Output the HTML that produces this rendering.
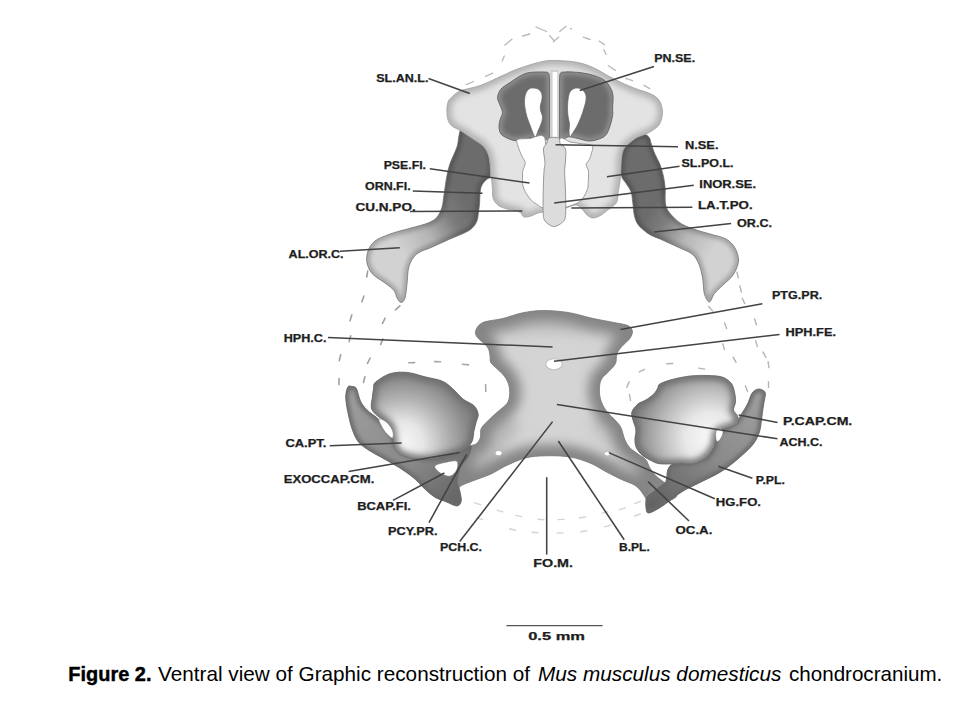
<!DOCTYPE html>
<html><head><meta charset="utf-8">
<style>
html,body{margin:0;padding:0;background:#fff;width:960px;height:702px;overflow:hidden}
svg{display:block}
.lb{font-family:"Liberation Sans",sans-serif;font-weight:bold;font-size:10.5px;fill:#1e1e1e;stroke:#1e1e1e;stroke-width:0.25}
.ld{stroke:#434343;stroke-width:1.55;fill:none}
.dash{stroke:#bcbcbc;stroke-width:1.3;fill:none;stroke-dasharray:4 9;stroke-linecap:round}
.cap{font-family:"Liberation Sans",sans-serif;font-size:21px;fill:#000}
</style></head><body>
<svg width="960" height="702" viewBox="0 0 960 702">
<defs>
<linearGradient id="gWingL" x1="468" y1="205" x2="400" y2="250" gradientUnits="userSpaceOnUse">
<stop offset="0" stop-color="#6c6c6c"/><stop offset="0.25" stop-color="#7a7a7a"/><stop offset="0.6" stop-color="#b4b4b4"/><stop offset="1" stop-color="#d2d2d2"/>
</linearGradient>
<linearGradient id="gWingR" x1="650" y1="212" x2="712" y2="252" gradientUnits="userSpaceOnUse">
<stop offset="0" stop-color="#6c6c6c"/><stop offset="0.25" stop-color="#7e7e7e"/><stop offset="0.6" stop-color="#b6b6b6"/><stop offset="1" stop-color="#d2d2d2"/>
</linearGradient>
<radialGradient id="gCap" cx="556" cy="140" r="110" gradientUnits="userSpaceOnUse">
<stop offset="0" stop-color="#e6e6e6"/><stop offset="0.8" stop-color="#dadada"/><stop offset="1" stop-color="#c8c8c8"/>
</radialGradient>
<radialGradient id="gPlate" cx="552" cy="400" r="110" gradientUnits="userSpaceOnUse">
<stop offset="0" stop-color="#d2d2d2"/><stop offset="0.6" stop-color="#bababa"/><stop offset="1" stop-color="#8e8e8e"/>
</radialGradient>
<radialGradient id="gOticL" cx="405" cy="442" r="78" fx="400" fy="444" gradientUnits="userSpaceOnUse">
<stop offset="0" stop-color="#f8f8f8"/><stop offset="0.28" stop-color="#e6e6e6"/><stop offset="0.58" stop-color="#b0b0b0"/><stop offset="0.82" stop-color="#8a8a8a"/><stop offset="1" stop-color="#747474"/>
</radialGradient>
<radialGradient id="gOticR" cx="706" cy="436" r="84" fx="712" fy="438" gradientUnits="userSpaceOnUse">
<stop offset="0" stop-color="#fafafa"/><stop offset="0.3" stop-color="#e8e8e8"/><stop offset="0.58" stop-color="#b8b8b8"/><stop offset="0.82" stop-color="#8a8a8a"/><stop offset="1" stop-color="#707070"/>
</radialGradient>
<linearGradient id="gBandL" x1="350" y1="390" x2="458" y2="505" gradientUnits="userSpaceOnUse">
<stop offset="0" stop-color="#9e9e9e"/><stop offset="0.6" stop-color="#8a8a8a"/><stop offset="1" stop-color="#626262"/>
</linearGradient>
<linearGradient id="gBandR" x1="762" y1="392" x2="650" y2="508" gradientUnits="userSpaceOnUse">
<stop offset="0" stop-color="#a0a0a0"/><stop offset="0.5" stop-color="#8a8a8a"/><stop offset="1" stop-color="#606060"/>
</linearGradient>
<filter id="soft" filterUnits="userSpaceOnUse" x="0" y="0" width="960" height="702"><feGaussianBlur stdDeviation="0.45"/></filter>
<filter id="b1" filterUnits="userSpaceOnUse" x="0" y="0" width="960" height="702"><feGaussianBlur stdDeviation="1"/></filter>
<filter id="b1_5" filterUnits="userSpaceOnUse" x="0" y="0" width="960" height="702"><feGaussianBlur stdDeviation="1.5"/></filter>
<filter id="b2" filterUnits="userSpaceOnUse" x="0" y="0" width="960" height="702"><feGaussianBlur stdDeviation="2"/></filter>
<filter id="b3" filterUnits="userSpaceOnUse" x="0" y="0" width="960" height="702"><feGaussianBlur stdDeviation="3"/></filter>
<filter id="b4" filterUnits="userSpaceOnUse" x="0" y="0" width="960" height="702"><feGaussianBlur stdDeviation="4"/></filter>
<filter id="b5" filterUnits="userSpaceOnUse" x="0" y="0" width="960" height="702"><feGaussianBlur stdDeviation="5"/></filter>
<filter id="b6" filterUnits="userSpaceOnUse" x="0" y="0" width="960" height="702"><feGaussianBlur stdDeviation="6"/></filter>
<clipPath id="c1"><path d="M465.0,128.0 C462.7,127.5 462.0,127.8 461.0,129.0 C460.0,130.2 459.6,132.6 459.0,135.4 C458.4,138.2 458.2,142.5 457.4,145.6 C456.6,148.7 455.3,151.1 454.0,154.2 C452.7,157.3 450.8,161.0 449.7,164.4 C448.6,167.8 447.8,171.3 447.1,174.7 C446.4,178.1 446.0,181.3 445.4,185.0 C444.8,188.7 444.3,193.3 443.7,197.0 C443.1,200.7 443.1,203.8 442.0,207.2 C440.9,210.6 439.1,214.8 436.8,217.4 C434.5,220.0 432.3,221.2 428.0,223.0 C423.7,224.8 417.3,226.2 411.0,228.0 C404.7,229.8 396.0,231.8 390.0,234.0 C384.0,236.2 378.7,238.2 375.0,241.0 C371.3,243.8 369.3,247.3 368.0,251.0 C366.7,254.7 366.2,259.2 367.0,263.0 C367.8,266.8 369.5,270.7 372.5,274.0 C375.5,277.3 381.4,280.2 385.0,283.0 C388.6,285.8 392.0,288.0 394.0,290.5 C396.0,293.0 395.8,296.0 397.0,298.0 C398.2,300.0 399.7,302.5 401.0,302.5 C402.3,302.5 404.0,301.1 405.0,298.0 C406.0,294.9 406.4,288.9 407.0,284.0 C407.6,279.1 407.5,272.8 408.5,268.5 C409.5,264.2 411.1,260.8 413.0,258.0 C414.9,255.2 417.0,253.8 420.0,252.0 C423.0,250.2 426.0,249.7 431.0,247.5 C436.0,245.3 443.7,241.8 450.0,239.0 C456.3,236.2 464.6,233.3 469.0,230.5 C473.4,227.7 474.9,225.1 476.5,222.0 C478.1,218.9 478.0,215.2 478.5,212.0 C479.0,208.8 479.4,206.0 479.6,203.0 C479.9,200.0 479.7,196.8 480.0,194.0 C480.3,191.2 480.5,188.3 481.5,186.0 C482.5,183.7 484.4,181.7 486.0,180.0 C487.6,178.3 490.0,178.5 491.0,176.0 C492.0,173.5 492.2,169.3 492.0,165.0 C491.8,160.7 491.2,154.2 490.0,150.0 C488.8,145.8 487.5,143.0 485.0,140.0 C482.5,137.0 478.3,134.0 475.0,132.0 C471.7,130.0 467.3,128.5 465.0,128.0 Z"/></clipPath>
<clipPath id="c2"><path d="M636.0,136.5 C638.9,134.9 642.8,134.2 645.0,134.5 C647.2,134.8 648.5,136.6 649.5,138.0 C650.5,139.4 650.1,140.3 651.0,143.0 C651.9,145.7 653.5,150.6 655.0,154.2 C656.5,157.8 658.6,160.7 660.0,164.4 C661.4,168.1 662.6,172.4 663.5,176.4 C664.4,180.4 664.9,184.4 665.2,188.4 C665.5,192.4 664.9,196.9 665.2,200.3 C665.5,203.7 665.6,206.1 667.0,208.9 C668.4,211.8 671.2,214.8 673.8,217.4 C676.3,220.0 678.8,222.3 682.3,224.3 C685.8,226.3 690.4,227.9 695.0,229.5 C699.6,231.1 704.8,232.4 710.0,234.0 C715.2,235.6 721.8,236.7 726.0,239.0 C730.2,241.3 732.9,244.3 735.0,248.0 C737.1,251.7 738.8,256.6 738.5,261.0 C738.2,265.4 735.9,270.7 733.3,274.7 C730.7,278.7 726.1,281.9 723.0,285.0 C719.9,288.1 716.8,290.7 714.5,293.5 C712.2,296.3 711.1,302.0 709.4,302.0 C707.7,302.0 705.4,297.5 704.3,293.5 C703.2,289.5 703.5,282.9 702.6,278.0 C701.7,273.1 700.7,268.4 699.0,264.4 C697.3,260.4 695.7,257.0 692.3,254.2 C688.9,251.4 684.0,249.9 678.6,247.4 C673.2,244.9 664.5,241.0 660.0,239.0 C655.5,237.0 653.8,236.7 651.3,235.4 C648.8,234.1 646.9,232.8 644.7,231.0 C642.5,229.2 639.6,226.9 637.9,224.3 C636.2,221.8 635.3,219.4 634.4,215.7 C633.5,212.0 633.3,206.0 632.7,202.0 C632.1,198.0 632.1,194.9 631.0,191.8 C629.9,188.7 627.6,185.8 626.0,183.2 C624.4,180.6 622.5,179.5 621.6,176.4 C620.7,173.3 620.6,168.4 620.8,164.4 C620.9,160.4 621.4,155.9 622.5,152.5 C623.6,149.1 625.4,146.7 627.6,144.0 C629.9,141.3 633.1,138.1 636.0,136.5 Z"/></clipPath>
<clipPath id="c3"><path d="M556.0,60.5 C561.0,60.7 569.0,60.9 575.0,62.0 C581.0,63.1 585.5,64.2 592.0,67.0 C598.5,69.8 607.0,75.5 614.0,79.0 C621.0,82.5 627.8,85.5 634.0,88.0 C640.2,90.5 646.7,91.8 651.0,94.0 C655.3,96.2 657.7,97.9 659.6,101.0 C661.5,104.1 662.5,108.8 662.5,112.6 C662.5,116.4 661.2,121.1 659.6,124.0 C658.0,126.9 655.3,128.3 653.0,130.0 C650.7,131.7 648.5,132.8 646.0,134.0 C643.5,135.2 640.2,135.9 638.0,137.0 C635.8,138.1 635.0,138.6 632.7,140.5 C630.4,142.4 626.1,145.3 624.2,148.2 C622.4,151.0 622.2,153.8 621.6,157.6 C621.0,161.4 621.1,167.3 620.8,171.3 C620.5,175.3 620.4,178.1 620.0,181.5 C619.6,184.9 618.6,188.7 618.2,191.8 C617.8,194.9 618.1,198.0 617.4,200.3 C616.7,202.6 615.7,203.8 614.0,205.5 C612.3,207.2 609.3,208.9 607.0,210.6 C604.7,212.3 602.6,214.5 600.3,215.7 C598.0,216.9 595.2,218.1 593.0,218.0 C590.8,217.9 588.8,216.5 587.0,215.0 C585.2,213.5 583.8,210.7 582.0,209.0 C580.2,207.3 578.7,205.2 576.0,205.0 C573.3,204.8 569.3,207.0 566.0,208.0 C562.7,209.0 559.5,210.3 556.0,211.0 C552.5,211.7 548.0,211.7 545.0,212.0 C542.0,212.3 540.3,212.3 538.0,213.0 C535.7,213.7 533.3,215.3 531.0,216.0 C528.7,216.7 525.7,217.5 524.0,217.0 C522.3,216.5 522.4,214.1 521.0,213.0 C519.6,211.9 517.8,211.3 515.5,210.6 C513.2,209.9 509.9,209.8 507.0,209.0 C504.1,208.2 500.7,207.2 498.4,205.5 C496.1,203.8 494.2,201.4 493.2,198.6 C492.2,195.8 492.7,191.8 492.4,188.4 C492.1,185.0 491.8,180.1 491.5,178.0 C491.2,175.9 490.9,178.3 490.7,176.0 C490.4,173.7 490.4,167.7 490.0,164.0 C489.6,160.3 489.2,157.0 488.0,154.0 C486.8,151.0 485.5,148.5 483.0,146.0 C480.5,143.5 476.7,141.5 473.0,139.0 C469.3,136.5 464.5,133.2 461.0,131.0 C457.5,128.8 454.2,127.8 452.0,126.0 C449.8,124.2 448.9,122.7 448.0,120.0 C447.1,117.3 446.9,113.0 446.9,110.0 C446.9,107.0 447.3,104.0 448.0,102.0 C448.7,100.0 449.0,99.8 451.0,98.0 C453.0,96.2 455.2,93.1 460.0,91.0 C464.8,88.9 472.9,88.2 480.0,85.6 C487.1,83.0 496.7,78.2 502.5,75.6 C508.3,73.0 510.2,71.8 515.0,70.0 C519.8,68.2 526.0,66.0 531.0,64.5 C536.0,63.0 540.8,61.7 545.0,61.0 C549.2,60.3 551.0,60.3 556.0,60.5 Z"/></clipPath>
<clipPath id="c4"><path d="M549.5,80.0 C549.3,75.5 549.4,74.3 548.5,73.0 C547.6,71.7 546.1,72.2 544.0,72.0 C541.9,71.8 538.7,71.9 536.0,72.0 C533.3,72.1 530.7,72.1 528.0,72.8 C525.3,73.5 523.0,74.4 520.0,76.0 C517.0,77.6 513.2,80.3 510.0,82.5 C506.8,84.7 503.1,86.5 501.0,89.0 C498.9,91.5 497.7,94.8 497.5,97.5 C497.3,100.2 499.2,102.5 500.0,105.0 C500.8,107.5 502.5,110.0 502.5,112.5 C502.5,115.0 500.6,117.5 500.0,120.0 C499.4,122.5 498.8,125.2 499.0,127.5 C499.2,129.8 499.8,132.3 501.0,134.0 C502.2,135.7 503.8,136.4 506.0,137.5 C508.2,138.6 511.5,140.1 514.0,140.5 C516.5,140.9 518.3,140.4 521.0,140.0 C523.7,139.6 527.3,138.5 530.0,138.0 C532.7,137.5 534.8,137.0 537.0,137.0 C539.2,137.0 541.0,137.7 543.0,138.0 C545.0,138.3 547.9,142.0 549.0,139.0 C550.1,136.0 549.5,126.5 549.6,120.0 C549.7,113.5 549.6,106.7 549.6,100.0 C549.6,93.3 549.7,84.5 549.5,80.0 Z"/></clipPath>
<clipPath id="c5"><path d="M559.5,80.0 C559.7,75.5 559.6,74.3 560.5,73.0 C561.4,71.7 562.9,72.2 565.0,72.0 C567.1,71.8 570.0,71.8 573.0,72.0 C576.0,72.2 579.5,72.4 583.0,73.0 C586.5,73.6 590.5,74.3 594.0,75.5 C597.5,76.7 601.3,78.1 604.0,80.0 C606.7,81.9 608.5,84.4 610.0,87.0 C611.5,89.6 612.6,92.0 613.0,95.5 C613.4,99.0 612.7,104.7 612.6,108.0 C612.5,111.3 613.1,112.3 612.6,115.5 C612.1,118.7 610.9,123.6 609.7,126.9 C608.5,130.2 607.6,133.3 605.5,135.4 C603.4,137.5 599.9,138.8 597.0,139.7 C594.1,140.6 591.7,141.2 588.4,141.0 C585.1,140.8 580.3,139.0 577.0,138.3 C573.7,137.6 570.8,136.6 568.4,136.8 C566.0,137.0 564.2,139.3 562.7,139.7 C561.2,140.1 560.0,142.3 559.5,139.0 C559.0,135.7 559.4,126.5 559.4,120.0 C559.4,113.5 559.4,106.7 559.4,100.0 C559.4,93.3 559.3,84.5 559.5,80.0 Z"/></clipPath>
<clipPath id="c6"><path d="M476.0,330.0 C477.0,327.6 478.6,324.4 483.0,322.5 C487.4,320.6 496.1,320.1 502.7,318.5 C509.3,316.9 516.1,314.1 522.7,312.8 C529.4,311.5 535.0,310.6 542.6,310.5 C550.2,310.4 560.2,311.2 568.3,312.5 C576.4,313.8 583.4,316.3 591.0,318.0 C598.6,319.7 607.6,321.2 613.8,322.5 C620.0,323.8 624.9,324.1 628.0,325.6 C631.1,327.1 632.1,329.1 632.4,331.3 C632.7,333.5 631.5,336.1 629.6,338.8 C627.7,341.5 623.1,344.8 621.0,347.4 C618.9,350.0 617.7,351.5 616.8,354.2 C615.9,356.9 616.8,360.6 615.5,363.5 C614.2,366.4 611.2,368.9 609.0,371.3 C606.8,373.7 603.8,375.8 602.2,378.1 C600.7,380.4 600.1,382.1 599.7,385.0 C599.3,387.9 599.3,392.1 599.7,395.2 C600.1,398.3 600.9,400.9 602.2,403.8 C603.5,406.7 605.1,409.5 607.4,412.3 C609.7,415.1 613.6,418.3 615.9,420.9 C618.2,423.5 619.5,424.5 621.0,427.7 C622.5,430.9 623.4,436.4 624.9,439.8 C626.4,443.2 627.8,445.5 629.9,447.8 C632.0,450.1 635.1,451.8 637.8,453.8 C640.4,455.8 643.8,457.4 645.8,459.7 C647.8,462.0 648.1,465.0 649.8,467.7 C651.5,470.4 653.1,473.0 655.8,475.7 C658.5,478.4 662.8,481.0 665.8,483.7 C668.8,486.4 672.0,489.4 673.7,491.6 C675.4,493.8 678.0,494.9 676.0,497.0 C674.0,499.1 666.3,502.2 662.0,504.0 C657.7,505.8 652.8,509.2 650.0,508.0 C647.2,506.8 647.3,500.7 645.0,497.0 C642.7,493.3 639.9,488.9 636.0,486.0 C632.1,483.1 626.9,482.1 621.9,479.7 C616.9,477.3 611.3,474.5 606.0,471.7 C600.7,468.9 596.0,465.4 590.0,463.0 C584.0,460.6 577.4,458.2 570.0,457.0 C562.6,455.8 552.9,455.6 545.5,455.8 C538.1,456.0 532.1,456.3 525.5,458.0 C518.9,459.7 511.4,463.3 505.6,466.0 C499.9,468.7 496.3,471.6 491.0,474.0 C485.7,476.4 478.7,478.6 474.0,480.4 C469.3,482.2 466.2,483.3 463.0,484.7 C459.8,486.1 457.5,489.8 455.0,489.0 C452.5,488.2 447.5,483.2 448.0,480.0 C448.5,476.8 454.8,475.3 458.0,470.0 C461.2,464.7 464.5,452.7 467.5,448.4 C470.5,444.1 473.9,445.8 476.0,444.0 C478.1,442.2 479.5,440.2 480.3,437.7 C481.1,435.2 480.1,431.6 481.0,429.1 C481.9,426.6 483.3,425.6 486.0,422.7 C488.7,419.8 493.9,415.2 497.4,412.0 C500.9,408.8 505.0,406.3 507.0,403.5 C509.0,400.7 509.3,398.1 509.6,395.0 C509.9,391.9 509.6,387.8 508.7,384.7 C507.8,381.6 506.2,378.8 504.4,376.2 C502.5,373.6 499.9,371.6 497.6,369.3 C495.3,367.0 492.1,364.8 490.8,362.5 C489.5,360.2 490.6,358.2 490.0,355.6 C489.4,353.0 489.6,350.1 487.4,347.0 C485.2,343.9 478.9,339.6 477.0,336.8 C475.1,334.0 475.0,332.4 476.0,330.0 Z"/></clipPath>
<clipPath id="c7"><path d="M347.8,387.0 C348.9,385.2 350.6,386.2 352.0,386.5 C353.4,386.8 355.0,386.0 356.4,388.5 C357.8,391.0 358.8,397.7 360.6,401.3 C362.4,404.9 364.1,407.0 367.0,409.9 C369.9,412.8 374.5,415.5 377.7,418.4 C380.9,421.2 383.8,424.1 386.3,427.0 C388.8,429.9 390.8,432.2 392.7,435.5 C394.6,438.8 395.1,443.8 398.0,447.0 C400.9,450.2 404.7,453.2 410.0,455.0 C415.3,456.8 423.7,458.0 430.0,458.0 C436.3,458.0 442.7,456.3 448.0,455.0 C453.3,453.7 458.2,451.5 462.0,450.0 C465.8,448.5 470.0,444.8 471.0,446.0 C472.0,447.2 469.7,453.7 468.0,457.0 C466.3,460.3 462.5,463.5 461.0,466.0 C459.5,468.5 459.7,469.3 459.0,472.0 C458.3,474.7 457.0,479.3 457.0,482.0 C457.0,484.7 458.4,486.0 459.0,488.0 C459.6,490.0 460.1,491.7 460.5,494.0 C460.9,496.3 461.7,499.8 461.1,501.8 C460.5,503.8 459.3,506.0 456.8,506.0 C454.3,506.0 449.7,503.2 446.1,501.8 C442.5,500.4 438.9,499.6 435.4,497.5 C431.8,495.4 428.4,492.2 424.8,489.0 C421.2,485.8 418.4,481.9 414.1,478.3 C409.8,474.7 404.1,470.8 399.1,467.6 C394.1,464.4 389.2,461.9 384.2,459.0 C379.2,456.1 373.5,453.3 369.2,450.5 C364.9,447.7 361.4,445.6 358.5,442.0 C355.6,438.4 353.9,434.0 352.1,429.0 C350.3,424.0 348.9,417.3 347.8,412.0 C346.7,406.7 345.7,401.2 345.7,397.0 C345.7,392.8 346.8,388.8 347.8,387.0 Z"/></clipPath>
<clipPath id="c8"><path d="M755.5,390.0 C756.8,389.2 758.1,388.8 759.5,389.0 C760.9,389.2 763.0,390.2 764.0,391.0 C765.0,391.8 765.3,392.5 765.4,394.0 C765.5,395.5 764.8,398.0 764.5,400.0 C764.2,402.0 763.9,402.7 763.4,406.0 C762.9,409.3 762.1,415.7 761.5,420.0 C760.9,424.3 760.8,427.8 759.5,431.8 C758.2,435.8 756.5,439.8 753.5,443.8 C750.5,447.8 745.5,452.2 741.5,455.8 C737.5,459.4 733.6,462.7 729.6,465.7 C725.6,468.7 722.3,471.0 717.6,473.7 C712.9,476.4 706.9,479.0 701.6,481.7 C696.3,484.4 690.4,487.0 685.7,489.6 C681.1,492.2 677.3,495.0 673.7,497.6 C670.1,500.2 667.1,502.9 664.0,505.0 C660.9,507.1 657.7,509.2 655.0,510.5 C652.3,511.8 649.5,513.4 648.0,513.0 C646.5,512.6 646.3,510.2 646.0,508.0 C645.7,505.8 645.7,502.0 646.0,500.0 C646.3,498.0 647.0,497.2 648.0,496.0 C649.0,494.8 650.3,494.3 652.0,493.0 C653.7,491.7 655.7,489.9 658.0,488.0 C660.3,486.1 664.2,484.8 665.8,481.7 C667.4,478.6 666.5,472.7 667.8,469.7 C669.1,466.7 670.0,465.0 673.7,463.7 C677.4,462.4 684.7,463.0 690.0,462.0 C695.3,461.0 701.7,460.2 705.6,457.8 C709.5,455.4 711.9,451.1 713.6,447.8 C715.3,444.5 714.9,440.5 715.6,437.8 C716.3,435.1 715.3,433.8 717.6,431.8 C719.9,429.8 726.3,427.8 729.6,425.8 C732.9,423.8 735.5,422.0 737.5,420.0 C739.5,418.0 739.8,416.7 741.5,414.0 C743.2,411.3 745.8,407.3 747.5,404.0 C749.2,400.7 750.2,396.3 751.5,394.0 C752.8,391.7 754.2,390.8 755.5,390.0 Z"/></clipPath>
<clipPath id="c9"><path d="M375.6,382.1 C378.5,379.6 385.2,375.1 390.6,373.5 C396.0,371.9 402.0,371.9 407.7,372.5 C413.4,373.1 419.1,375.4 424.8,376.8 C430.5,378.2 437.3,379.1 441.9,381.0 C446.5,382.9 448.9,385.5 452.5,388.5 C456.1,391.5 459.6,396.3 463.2,399.2 C466.8,402.1 471.4,403.1 473.9,405.6 C476.4,408.1 477.8,411.4 478.2,414.2 C478.6,417.0 476.7,419.8 476.0,422.7 C475.3,425.6 474.6,428.1 473.9,431.3 C473.2,434.5 473.6,438.8 471.8,442.0 C470.0,445.2 466.8,448.4 463.2,450.5 C459.6,452.6 455.4,453.4 450.4,454.8 C445.4,456.2 439.0,458.3 433.3,459.0 C427.6,459.7 421.5,459.7 416.2,459.0 C410.9,458.3 404.9,456.6 401.3,454.8 C397.7,453.0 396.2,451.2 394.8,448.4 C393.4,445.5 393.4,441.3 392.7,437.7 C392.0,434.1 392.0,429.9 390.6,427.0 C389.2,424.1 386.7,422.7 384.2,420.6 C381.7,418.5 377.8,416.4 375.6,414.2 C373.5,412.0 371.8,410.6 371.3,407.7 C370.8,404.8 372.0,400.2 372.4,397.0 C372.8,393.8 373.0,391.0 373.5,388.5 C374.0,386.0 372.8,384.6 375.6,382.1 Z"/></clipPath>
<clipPath id="c10"><path d="M659.8,384.0 C662.2,382.6 667.0,380.8 672.0,379.5 C677.0,378.2 684.0,376.7 690.0,376.0 C696.0,375.3 702.7,375.3 708.0,375.5 C713.3,375.7 718.2,375.8 722.0,377.0 C725.8,378.2 728.9,380.5 731.0,383.0 C733.1,385.5 733.8,388.8 734.5,392.0 C735.2,395.2 735.7,399.0 735.5,402.0 C735.3,405.0 733.2,407.7 733.5,410.0 C733.8,412.3 736.8,413.7 737.5,416.0 C738.2,418.3 739.1,422.0 737.5,424.0 C735.9,426.0 730.9,426.5 727.6,427.8 C724.3,429.1 719.6,429.8 717.6,431.8 C715.6,433.8 716.3,437.1 715.6,439.8 C714.9,442.5 715.3,444.8 713.6,447.8 C711.9,450.8 708.9,455.2 705.6,457.8 C702.3,460.4 697.8,462.8 693.7,463.7 C689.6,464.6 685.0,463.4 681.0,463.5 C677.0,463.6 673.8,464.0 670.0,464.0 C666.2,464.0 661.3,464.2 658.0,463.5 C654.7,462.8 652.7,461.4 650.0,460.0 C647.3,458.6 644.2,457.0 642.0,455.0 C639.8,453.0 637.7,450.5 636.5,448.0 C635.3,445.5 635.0,442.8 634.9,439.8 C634.8,436.8 636.2,433.1 635.9,429.8 C635.6,426.5 633.6,422.9 632.9,419.9 C632.2,416.9 631.1,414.5 631.9,411.9 C632.7,409.2 635.5,406.0 637.8,404.0 C640.1,402.0 643.1,401.7 645.8,400.0 C648.5,398.3 651.8,396.0 653.8,394.0 C655.8,392.0 656.8,389.7 657.8,388.0 C658.8,386.3 657.4,385.4 659.8,384.0 Z"/></clipPath>
</defs>
<g id="shapes" filter="url(#soft)">
<path d="M466.3,84.6 L473.5,81.5 M485.5,76.3 L492.8,73.1 M502.2,61 L504.3,56 M504.8,45 L512,39.3 M522.5,36 L529.8,34 M536,27 L546.5,31.5 M549.6,35.6 L553.5,40 M553.4,41.8 L558.6,37.2 M559.7,31.5 L566,26.3 M570.5,28.5 L571.5,28.8 M583.2,37.2 L590,39.5 M599.3,41.2 L604.4,44.6 M603.8,49.8 L606,54.4 M608.4,65.8 L615.3,70.4 M625.6,78.4 L632.5,80.7 M644,85.3 L649.7,88.7" stroke="#bababa" stroke-width="1.35" fill="none" stroke-linecap="round"/>
<path d="M367.7,271.0 L366.7,277.0 M363.9,296.1 L361.9,301.7 M351.8,314.9 L350.0,320.7 M350.7,335.8 L349.1,341.6 M340.7,354.8 L339.3,360.6 M339.1,378.6 L338.9,384.6" stroke="#a0a0a0" stroke-width="1.6" fill="none" stroke-linecap="round"/>
<path d="M399.9,305.8 L395.5,309.8 M385.1,318.1 L382.5,323.5 M382.9,338.9 L380.7,344.5 M370.1,358.0 L367.5,363.4 M364.9,376.7 L363.5,382.5" stroke="#a0a0a0" stroke-width="1.6" fill="none" stroke-linecap="round"/>
<path d="M408.7,362.8 L414.7,362.6 M434.6,361.6 L440.6,361.8 M462.5,364.3 L468.5,364.9" stroke="#a8a8a8" stroke-width="1.6" fill="none" stroke-linecap="round"/>
<path d="M485.6,384.5 L485.8,391.5" stroke="#a8a8a8" stroke-width="1.6" fill="none" stroke-linecap="round"/>
<path d="M737.0,272.1 L738.2,277.9 M739.9,286.0 L741.3,291.8 M742.3,298.2 L744.7,303.6 M754.6,318.9 L756.4,324.7 M755.7,340.8 L757.3,346.6 M763.0,352.1 L766.0,357.3 M768.1,361.6 L768.9,367.6 M768.5,381.6 L768.5,387.6" stroke="#b4b4b4" stroke-width="1.4" fill="none" stroke-linecap="round"/>
<path d="M708.7,306.5 L712.7,311.1 M724.6,323.0 L726.6,328.6 M722.8,343.8 L724.4,349.6 M733.2,357.1 L736.0,362.3 M745.4,385.8 L747.6,391.4" stroke="#b4b4b4" stroke-width="1.4" fill="none" stroke-linecap="round"/>
<path d="M630.5,400.5 L629.5,394.5 M626.8,387.3 L629.2,381.9 M639.2,371.9 L644.6,369.3 M666.8,363.7 L672.8,363.5 M698.7,368.1 L704.7,369.1" stroke="#b4b4b4" stroke-width="1.4" fill="none" stroke-linecap="round"/>
<path d="M474.6,502.8 L480.4,504.7 M497.1,510.1 L502.9,511.9 M515.8,515.4 L521.7,516.6 M538.0,519.3 L544.0,519.7 M558.0,519.6 L564.0,519.4 M579.5,518.0 L585.5,517.0 M602.1,513.1 L607.9,511.9 M619.6,509.6 L625.4,507.9 M634.7,503.7 L640.3,501.3" stroke="#d4d4d4" stroke-width="1.4" fill="none" stroke-linecap="round"/>
<path d="M477.2,517.8 L482.8,519.7 M509.6,528.8 L515.4,530.2 M532.0,532.3 L538.0,532.7 M557.0,533.1 L563.0,532.9 M580.8,531.7 L586.7,530.8 M604.6,526.9 L610.4,525.1 M634.7,516.0 L640.3,514.0" stroke="#d4d4d4" stroke-width="1.4" fill="none" stroke-linecap="round"/>
<path d="M465.0,128.0 C462.7,127.5 462.0,127.8 461.0,129.0 C460.0,130.2 459.6,132.6 459.0,135.4 C458.4,138.2 458.2,142.5 457.4,145.6 C456.6,148.7 455.3,151.1 454.0,154.2 C452.7,157.3 450.8,161.0 449.7,164.4 C448.6,167.8 447.8,171.3 447.1,174.7 C446.4,178.1 446.0,181.3 445.4,185.0 C444.8,188.7 444.3,193.3 443.7,197.0 C443.1,200.7 443.1,203.8 442.0,207.2 C440.9,210.6 439.1,214.8 436.8,217.4 C434.5,220.0 432.3,221.2 428.0,223.0 C423.7,224.8 417.3,226.2 411.0,228.0 C404.7,229.8 396.0,231.8 390.0,234.0 C384.0,236.2 378.7,238.2 375.0,241.0 C371.3,243.8 369.3,247.3 368.0,251.0 C366.7,254.7 366.2,259.2 367.0,263.0 C367.8,266.8 369.5,270.7 372.5,274.0 C375.5,277.3 381.4,280.2 385.0,283.0 C388.6,285.8 392.0,288.0 394.0,290.5 C396.0,293.0 395.8,296.0 397.0,298.0 C398.2,300.0 399.7,302.5 401.0,302.5 C402.3,302.5 404.0,301.1 405.0,298.0 C406.0,294.9 406.4,288.9 407.0,284.0 C407.6,279.1 407.5,272.8 408.5,268.5 C409.5,264.2 411.1,260.8 413.0,258.0 C414.9,255.2 417.0,253.8 420.0,252.0 C423.0,250.2 426.0,249.7 431.0,247.5 C436.0,245.3 443.7,241.8 450.0,239.0 C456.3,236.2 464.6,233.3 469.0,230.5 C473.4,227.7 474.9,225.1 476.5,222.0 C478.1,218.9 478.0,215.2 478.5,212.0 C479.0,208.8 479.4,206.0 479.6,203.0 C479.9,200.0 479.7,196.8 480.0,194.0 C480.3,191.2 480.5,188.3 481.5,186.0 C482.5,183.7 484.4,181.7 486.0,180.0 C487.6,178.3 490.0,178.5 491.0,176.0 C492.0,173.5 492.2,169.3 492.0,165.0 C491.8,160.7 491.2,154.2 490.0,150.0 C488.8,145.8 487.5,143.0 485.0,140.0 C482.5,137.0 478.3,134.0 475.0,132.0 C471.7,130.0 467.3,128.5 465.0,128.0 Z" fill="url(#gWingL)"/>
<path d="M465.0,128.0 C462.7,127.5 462.0,127.8 461.0,129.0 C460.0,130.2 459.6,132.6 459.0,135.4 C458.4,138.2 458.2,142.5 457.4,145.6 C456.6,148.7 455.3,151.1 454.0,154.2 C452.7,157.3 450.8,161.0 449.7,164.4 C448.6,167.8 447.8,171.3 447.1,174.7 C446.4,178.1 446.0,181.3 445.4,185.0 C444.8,188.7 444.3,193.3 443.7,197.0 C443.1,200.7 443.1,203.8 442.0,207.2 C440.9,210.6 439.1,214.8 436.8,217.4 C434.5,220.0 432.3,221.2 428.0,223.0 C423.7,224.8 417.3,226.2 411.0,228.0 C404.7,229.8 396.0,231.8 390.0,234.0 C384.0,236.2 378.7,238.2 375.0,241.0 C371.3,243.8 369.3,247.3 368.0,251.0 C366.7,254.7 366.2,259.2 367.0,263.0 C367.8,266.8 369.5,270.7 372.5,274.0 C375.5,277.3 381.4,280.2 385.0,283.0 C388.6,285.8 392.0,288.0 394.0,290.5 C396.0,293.0 395.8,296.0 397.0,298.0 C398.2,300.0 399.7,302.5 401.0,302.5 C402.3,302.5 404.0,301.1 405.0,298.0 C406.0,294.9 406.4,288.9 407.0,284.0 C407.6,279.1 407.5,272.8 408.5,268.5 C409.5,264.2 411.1,260.8 413.0,258.0 C414.9,255.2 417.0,253.8 420.0,252.0 C423.0,250.2 426.0,249.7 431.0,247.5 C436.0,245.3 443.7,241.8 450.0,239.0 C456.3,236.2 464.6,233.3 469.0,230.5 C473.4,227.7 474.9,225.1 476.5,222.0 C478.1,218.9 478.0,215.2 478.5,212.0 C479.0,208.8 479.4,206.0 479.6,203.0 C479.9,200.0 479.7,196.8 480.0,194.0 C480.3,191.2 480.5,188.3 481.5,186.0 C482.5,183.7 484.4,181.7 486.0,180.0 C487.6,178.3 490.0,178.5 491.0,176.0 C492.0,173.5 492.2,169.3 492.0,165.0 C491.8,160.7 491.2,154.2 490.0,150.0 C488.8,145.8 487.5,143.0 485.0,140.0 C482.5,137.0 478.3,134.0 475.0,132.0 C471.7,130.0 467.3,128.5 465.0,128.0 Z" fill="none" stroke="rgba(0,0,0,0.22)" stroke-width="7" filter="url(#b2)" clip-path="url(#c1)"/>
<path d="M465.0,128.0 C462.7,127.5 462.0,127.8 461.0,129.0 C460.0,130.2 459.6,132.6 459.0,135.4 C458.4,138.2 458.2,142.5 457.4,145.6 C456.6,148.7 455.3,151.1 454.0,154.2 C452.7,157.3 450.8,161.0 449.7,164.4 C448.6,167.8 447.8,171.3 447.1,174.7 C446.4,178.1 446.0,181.3 445.4,185.0 C444.8,188.7 444.3,193.3 443.7,197.0 C443.1,200.7 443.1,203.8 442.0,207.2 C440.9,210.6 439.1,214.8 436.8,217.4 C434.5,220.0 432.3,221.2 428.0,223.0 C423.7,224.8 417.3,226.2 411.0,228.0 C404.7,229.8 396.0,231.8 390.0,234.0 C384.0,236.2 378.7,238.2 375.0,241.0 C371.3,243.8 369.3,247.3 368.0,251.0 C366.7,254.7 366.2,259.2 367.0,263.0 C367.8,266.8 369.5,270.7 372.5,274.0 C375.5,277.3 381.4,280.2 385.0,283.0 C388.6,285.8 392.0,288.0 394.0,290.5 C396.0,293.0 395.8,296.0 397.0,298.0 C398.2,300.0 399.7,302.5 401.0,302.5 C402.3,302.5 404.0,301.1 405.0,298.0 C406.0,294.9 406.4,288.9 407.0,284.0 C407.6,279.1 407.5,272.8 408.5,268.5 C409.5,264.2 411.1,260.8 413.0,258.0 C414.9,255.2 417.0,253.8 420.0,252.0 C423.0,250.2 426.0,249.7 431.0,247.5 C436.0,245.3 443.7,241.8 450.0,239.0 C456.3,236.2 464.6,233.3 469.0,230.5 C473.4,227.7 474.9,225.1 476.5,222.0 C478.1,218.9 478.0,215.2 478.5,212.0 C479.0,208.8 479.4,206.0 479.6,203.0 C479.9,200.0 479.7,196.8 480.0,194.0 C480.3,191.2 480.5,188.3 481.5,186.0 C482.5,183.7 484.4,181.7 486.0,180.0 C487.6,178.3 490.0,178.5 491.0,176.0 C492.0,173.5 492.2,169.3 492.0,165.0 C491.8,160.7 491.2,154.2 490.0,150.0 C488.8,145.8 487.5,143.0 485.0,140.0 C482.5,137.0 478.3,134.0 475.0,132.0 C471.7,130.0 467.3,128.5 465.0,128.0 Z" fill="none" stroke="#6a6a6a" stroke-width="0.7"/>
<path d="M636.0,136.5 C638.9,134.9 642.8,134.2 645.0,134.5 C647.2,134.8 648.5,136.6 649.5,138.0 C650.5,139.4 650.1,140.3 651.0,143.0 C651.9,145.7 653.5,150.6 655.0,154.2 C656.5,157.8 658.6,160.7 660.0,164.4 C661.4,168.1 662.6,172.4 663.5,176.4 C664.4,180.4 664.9,184.4 665.2,188.4 C665.5,192.4 664.9,196.9 665.2,200.3 C665.5,203.7 665.6,206.1 667.0,208.9 C668.4,211.8 671.2,214.8 673.8,217.4 C676.3,220.0 678.8,222.3 682.3,224.3 C685.8,226.3 690.4,227.9 695.0,229.5 C699.6,231.1 704.8,232.4 710.0,234.0 C715.2,235.6 721.8,236.7 726.0,239.0 C730.2,241.3 732.9,244.3 735.0,248.0 C737.1,251.7 738.8,256.6 738.5,261.0 C738.2,265.4 735.9,270.7 733.3,274.7 C730.7,278.7 726.1,281.9 723.0,285.0 C719.9,288.1 716.8,290.7 714.5,293.5 C712.2,296.3 711.1,302.0 709.4,302.0 C707.7,302.0 705.4,297.5 704.3,293.5 C703.2,289.5 703.5,282.9 702.6,278.0 C701.7,273.1 700.7,268.4 699.0,264.4 C697.3,260.4 695.7,257.0 692.3,254.2 C688.9,251.4 684.0,249.9 678.6,247.4 C673.2,244.9 664.5,241.0 660.0,239.0 C655.5,237.0 653.8,236.7 651.3,235.4 C648.8,234.1 646.9,232.8 644.7,231.0 C642.5,229.2 639.6,226.9 637.9,224.3 C636.2,221.8 635.3,219.4 634.4,215.7 C633.5,212.0 633.3,206.0 632.7,202.0 C632.1,198.0 632.1,194.9 631.0,191.8 C629.9,188.7 627.6,185.8 626.0,183.2 C624.4,180.6 622.5,179.5 621.6,176.4 C620.7,173.3 620.6,168.4 620.8,164.4 C620.9,160.4 621.4,155.9 622.5,152.5 C623.6,149.1 625.4,146.7 627.6,144.0 C629.9,141.3 633.1,138.1 636.0,136.5 Z" fill="url(#gWingR)"/>
<path d="M636.0,136.5 C638.9,134.9 642.8,134.2 645.0,134.5 C647.2,134.8 648.5,136.6 649.5,138.0 C650.5,139.4 650.1,140.3 651.0,143.0 C651.9,145.7 653.5,150.6 655.0,154.2 C656.5,157.8 658.6,160.7 660.0,164.4 C661.4,168.1 662.6,172.4 663.5,176.4 C664.4,180.4 664.9,184.4 665.2,188.4 C665.5,192.4 664.9,196.9 665.2,200.3 C665.5,203.7 665.6,206.1 667.0,208.9 C668.4,211.8 671.2,214.8 673.8,217.4 C676.3,220.0 678.8,222.3 682.3,224.3 C685.8,226.3 690.4,227.9 695.0,229.5 C699.6,231.1 704.8,232.4 710.0,234.0 C715.2,235.6 721.8,236.7 726.0,239.0 C730.2,241.3 732.9,244.3 735.0,248.0 C737.1,251.7 738.8,256.6 738.5,261.0 C738.2,265.4 735.9,270.7 733.3,274.7 C730.7,278.7 726.1,281.9 723.0,285.0 C719.9,288.1 716.8,290.7 714.5,293.5 C712.2,296.3 711.1,302.0 709.4,302.0 C707.7,302.0 705.4,297.5 704.3,293.5 C703.2,289.5 703.5,282.9 702.6,278.0 C701.7,273.1 700.7,268.4 699.0,264.4 C697.3,260.4 695.7,257.0 692.3,254.2 C688.9,251.4 684.0,249.9 678.6,247.4 C673.2,244.9 664.5,241.0 660.0,239.0 C655.5,237.0 653.8,236.7 651.3,235.4 C648.8,234.1 646.9,232.8 644.7,231.0 C642.5,229.2 639.6,226.9 637.9,224.3 C636.2,221.8 635.3,219.4 634.4,215.7 C633.5,212.0 633.3,206.0 632.7,202.0 C632.1,198.0 632.1,194.9 631.0,191.8 C629.9,188.7 627.6,185.8 626.0,183.2 C624.4,180.6 622.5,179.5 621.6,176.4 C620.7,173.3 620.6,168.4 620.8,164.4 C620.9,160.4 621.4,155.9 622.5,152.5 C623.6,149.1 625.4,146.7 627.6,144.0 C629.9,141.3 633.1,138.1 636.0,136.5 Z" fill="none" stroke="rgba(0,0,0,0.22)" stroke-width="7" filter="url(#b2)" clip-path="url(#c2)"/>
<path d="M636.0,136.5 C638.9,134.9 642.8,134.2 645.0,134.5 C647.2,134.8 648.5,136.6 649.5,138.0 C650.5,139.4 650.1,140.3 651.0,143.0 C651.9,145.7 653.5,150.6 655.0,154.2 C656.5,157.8 658.6,160.7 660.0,164.4 C661.4,168.1 662.6,172.4 663.5,176.4 C664.4,180.4 664.9,184.4 665.2,188.4 C665.5,192.4 664.9,196.9 665.2,200.3 C665.5,203.7 665.6,206.1 667.0,208.9 C668.4,211.8 671.2,214.8 673.8,217.4 C676.3,220.0 678.8,222.3 682.3,224.3 C685.8,226.3 690.4,227.9 695.0,229.5 C699.6,231.1 704.8,232.4 710.0,234.0 C715.2,235.6 721.8,236.7 726.0,239.0 C730.2,241.3 732.9,244.3 735.0,248.0 C737.1,251.7 738.8,256.6 738.5,261.0 C738.2,265.4 735.9,270.7 733.3,274.7 C730.7,278.7 726.1,281.9 723.0,285.0 C719.9,288.1 716.8,290.7 714.5,293.5 C712.2,296.3 711.1,302.0 709.4,302.0 C707.7,302.0 705.4,297.5 704.3,293.5 C703.2,289.5 703.5,282.9 702.6,278.0 C701.7,273.1 700.7,268.4 699.0,264.4 C697.3,260.4 695.7,257.0 692.3,254.2 C688.9,251.4 684.0,249.9 678.6,247.4 C673.2,244.9 664.5,241.0 660.0,239.0 C655.5,237.0 653.8,236.7 651.3,235.4 C648.8,234.1 646.9,232.8 644.7,231.0 C642.5,229.2 639.6,226.9 637.9,224.3 C636.2,221.8 635.3,219.4 634.4,215.7 C633.5,212.0 633.3,206.0 632.7,202.0 C632.1,198.0 632.1,194.9 631.0,191.8 C629.9,188.7 627.6,185.8 626.0,183.2 C624.4,180.6 622.5,179.5 621.6,176.4 C620.7,173.3 620.6,168.4 620.8,164.4 C620.9,160.4 621.4,155.9 622.5,152.5 C623.6,149.1 625.4,146.7 627.6,144.0 C629.9,141.3 633.1,138.1 636.0,136.5 Z" fill="none" stroke="#6a6a6a" stroke-width="0.7"/>
<path d="M556.0,60.5 C561.0,60.7 569.0,60.9 575.0,62.0 C581.0,63.1 585.5,64.2 592.0,67.0 C598.5,69.8 607.0,75.5 614.0,79.0 C621.0,82.5 627.8,85.5 634.0,88.0 C640.2,90.5 646.7,91.8 651.0,94.0 C655.3,96.2 657.7,97.9 659.6,101.0 C661.5,104.1 662.5,108.8 662.5,112.6 C662.5,116.4 661.2,121.1 659.6,124.0 C658.0,126.9 655.3,128.3 653.0,130.0 C650.7,131.7 648.5,132.8 646.0,134.0 C643.5,135.2 640.2,135.9 638.0,137.0 C635.8,138.1 635.0,138.6 632.7,140.5 C630.4,142.4 626.1,145.3 624.2,148.2 C622.4,151.0 622.2,153.8 621.6,157.6 C621.0,161.4 621.1,167.3 620.8,171.3 C620.5,175.3 620.4,178.1 620.0,181.5 C619.6,184.9 618.6,188.7 618.2,191.8 C617.8,194.9 618.1,198.0 617.4,200.3 C616.7,202.6 615.7,203.8 614.0,205.5 C612.3,207.2 609.3,208.9 607.0,210.6 C604.7,212.3 602.6,214.5 600.3,215.7 C598.0,216.9 595.2,218.1 593.0,218.0 C590.8,217.9 588.8,216.5 587.0,215.0 C585.2,213.5 583.8,210.7 582.0,209.0 C580.2,207.3 578.7,205.2 576.0,205.0 C573.3,204.8 569.3,207.0 566.0,208.0 C562.7,209.0 559.5,210.3 556.0,211.0 C552.5,211.7 548.0,211.7 545.0,212.0 C542.0,212.3 540.3,212.3 538.0,213.0 C535.7,213.7 533.3,215.3 531.0,216.0 C528.7,216.7 525.7,217.5 524.0,217.0 C522.3,216.5 522.4,214.1 521.0,213.0 C519.6,211.9 517.8,211.3 515.5,210.6 C513.2,209.9 509.9,209.8 507.0,209.0 C504.1,208.2 500.7,207.2 498.4,205.5 C496.1,203.8 494.2,201.4 493.2,198.6 C492.2,195.8 492.7,191.8 492.4,188.4 C492.1,185.0 491.8,180.1 491.5,178.0 C491.2,175.9 490.9,178.3 490.7,176.0 C490.4,173.7 490.4,167.7 490.0,164.0 C489.6,160.3 489.2,157.0 488.0,154.0 C486.8,151.0 485.5,148.5 483.0,146.0 C480.5,143.5 476.7,141.5 473.0,139.0 C469.3,136.5 464.5,133.2 461.0,131.0 C457.5,128.8 454.2,127.8 452.0,126.0 C449.8,124.2 448.9,122.7 448.0,120.0 C447.1,117.3 446.9,113.0 446.9,110.0 C446.9,107.0 447.3,104.0 448.0,102.0 C448.7,100.0 449.0,99.8 451.0,98.0 C453.0,96.2 455.2,93.1 460.0,91.0 C464.8,88.9 472.9,88.2 480.0,85.6 C487.1,83.0 496.7,78.2 502.5,75.6 C508.3,73.0 510.2,71.8 515.0,70.0 C519.8,68.2 526.0,66.0 531.0,64.5 C536.0,63.0 540.8,61.7 545.0,61.0 C549.2,60.3 551.0,60.3 556.0,60.5 Z" fill="#e3e3e3"/>
<path d="M556.0,60.5 C561.0,60.7 569.0,60.9 575.0,62.0 C581.0,63.1 585.5,64.2 592.0,67.0 C598.5,69.8 607.0,75.5 614.0,79.0 C621.0,82.5 627.8,85.5 634.0,88.0 C640.2,90.5 646.7,91.8 651.0,94.0 C655.3,96.2 657.7,97.9 659.6,101.0 C661.5,104.1 662.5,108.8 662.5,112.6 C662.5,116.4 661.2,121.1 659.6,124.0 C658.0,126.9 655.3,128.3 653.0,130.0 C650.7,131.7 648.5,132.8 646.0,134.0 C643.5,135.2 640.2,135.9 638.0,137.0 C635.8,138.1 635.0,138.6 632.7,140.5 C630.4,142.4 626.1,145.3 624.2,148.2 C622.4,151.0 622.2,153.8 621.6,157.6 C621.0,161.4 621.1,167.3 620.8,171.3 C620.5,175.3 620.4,178.1 620.0,181.5 C619.6,184.9 618.6,188.7 618.2,191.8 C617.8,194.9 618.1,198.0 617.4,200.3 C616.7,202.6 615.7,203.8 614.0,205.5 C612.3,207.2 609.3,208.9 607.0,210.6 C604.7,212.3 602.6,214.5 600.3,215.7 C598.0,216.9 595.2,218.1 593.0,218.0 C590.8,217.9 588.8,216.5 587.0,215.0 C585.2,213.5 583.8,210.7 582.0,209.0 C580.2,207.3 578.7,205.2 576.0,205.0 C573.3,204.8 569.3,207.0 566.0,208.0 C562.7,209.0 559.5,210.3 556.0,211.0 C552.5,211.7 548.0,211.7 545.0,212.0 C542.0,212.3 540.3,212.3 538.0,213.0 C535.7,213.7 533.3,215.3 531.0,216.0 C528.7,216.7 525.7,217.5 524.0,217.0 C522.3,216.5 522.4,214.1 521.0,213.0 C519.6,211.9 517.8,211.3 515.5,210.6 C513.2,209.9 509.9,209.8 507.0,209.0 C504.1,208.2 500.7,207.2 498.4,205.5 C496.1,203.8 494.2,201.4 493.2,198.6 C492.2,195.8 492.7,191.8 492.4,188.4 C492.1,185.0 491.8,180.1 491.5,178.0 C491.2,175.9 490.9,178.3 490.7,176.0 C490.4,173.7 490.4,167.7 490.0,164.0 C489.6,160.3 489.2,157.0 488.0,154.0 C486.8,151.0 485.5,148.5 483.0,146.0 C480.5,143.5 476.7,141.5 473.0,139.0 C469.3,136.5 464.5,133.2 461.0,131.0 C457.5,128.8 454.2,127.8 452.0,126.0 C449.8,124.2 448.9,122.7 448.0,120.0 C447.1,117.3 446.9,113.0 446.9,110.0 C446.9,107.0 447.3,104.0 448.0,102.0 C448.7,100.0 449.0,99.8 451.0,98.0 C453.0,96.2 455.2,93.1 460.0,91.0 C464.8,88.9 472.9,88.2 480.0,85.6 C487.1,83.0 496.7,78.2 502.5,75.6 C508.3,73.0 510.2,71.8 515.0,70.0 C519.8,68.2 526.0,66.0 531.0,64.5 C536.0,63.0 540.8,61.7 545.0,61.0 C549.2,60.3 551.0,60.3 556.0,60.5 Z" fill="none" stroke="#b0b0b0" stroke-width="9" filter="url(#b3)" clip-path="url(#c3)"/>
<path d="M556.0,60.5 C561.0,60.7 569.0,60.9 575.0,62.0 C581.0,63.1 585.5,64.2 592.0,67.0 C598.5,69.8 607.0,75.5 614.0,79.0 C621.0,82.5 627.8,85.5 634.0,88.0 C640.2,90.5 646.7,91.8 651.0,94.0 C655.3,96.2 657.7,97.9 659.6,101.0 C661.5,104.1 662.5,108.8 662.5,112.6 C662.5,116.4 661.2,121.1 659.6,124.0 C658.0,126.9 655.3,128.3 653.0,130.0 C650.7,131.7 648.5,132.8 646.0,134.0 C643.5,135.2 640.2,135.9 638.0,137.0 C635.8,138.1 635.0,138.6 632.7,140.5 C630.4,142.4 626.1,145.3 624.2,148.2 C622.4,151.0 622.2,153.8 621.6,157.6 C621.0,161.4 621.1,167.3 620.8,171.3 C620.5,175.3 620.4,178.1 620.0,181.5 C619.6,184.9 618.6,188.7 618.2,191.8 C617.8,194.9 618.1,198.0 617.4,200.3 C616.7,202.6 615.7,203.8 614.0,205.5 C612.3,207.2 609.3,208.9 607.0,210.6 C604.7,212.3 602.6,214.5 600.3,215.7 C598.0,216.9 595.2,218.1 593.0,218.0 C590.8,217.9 588.8,216.5 587.0,215.0 C585.2,213.5 583.8,210.7 582.0,209.0 C580.2,207.3 578.7,205.2 576.0,205.0 C573.3,204.8 569.3,207.0 566.0,208.0 C562.7,209.0 559.5,210.3 556.0,211.0 C552.5,211.7 548.0,211.7 545.0,212.0 C542.0,212.3 540.3,212.3 538.0,213.0 C535.7,213.7 533.3,215.3 531.0,216.0 C528.7,216.7 525.7,217.5 524.0,217.0 C522.3,216.5 522.4,214.1 521.0,213.0 C519.6,211.9 517.8,211.3 515.5,210.6 C513.2,209.9 509.9,209.8 507.0,209.0 C504.1,208.2 500.7,207.2 498.4,205.5 C496.1,203.8 494.2,201.4 493.2,198.6 C492.2,195.8 492.7,191.8 492.4,188.4 C492.1,185.0 491.8,180.1 491.5,178.0 C491.2,175.9 490.9,178.3 490.7,176.0 C490.4,173.7 490.4,167.7 490.0,164.0 C489.6,160.3 489.2,157.0 488.0,154.0 C486.8,151.0 485.5,148.5 483.0,146.0 C480.5,143.5 476.7,141.5 473.0,139.0 C469.3,136.5 464.5,133.2 461.0,131.0 C457.5,128.8 454.2,127.8 452.0,126.0 C449.8,124.2 448.9,122.7 448.0,120.0 C447.1,117.3 446.9,113.0 446.9,110.0 C446.9,107.0 447.3,104.0 448.0,102.0 C448.7,100.0 449.0,99.8 451.0,98.0 C453.0,96.2 455.2,93.1 460.0,91.0 C464.8,88.9 472.9,88.2 480.0,85.6 C487.1,83.0 496.7,78.2 502.5,75.6 C508.3,73.0 510.2,71.8 515.0,70.0 C519.8,68.2 526.0,66.0 531.0,64.5 C536.0,63.0 540.8,61.7 545.0,61.0 C549.2,60.3 551.0,60.3 556.0,60.5 Z" fill="none" stroke="#a0a0a0" stroke-width="0.8"/>
<path d="M549.5,80.0 C549.3,75.5 549.4,74.3 548.5,73.0 C547.6,71.7 546.1,72.2 544.0,72.0 C541.9,71.8 538.7,71.9 536.0,72.0 C533.3,72.1 530.7,72.1 528.0,72.8 C525.3,73.5 523.0,74.4 520.0,76.0 C517.0,77.6 513.2,80.3 510.0,82.5 C506.8,84.7 503.1,86.5 501.0,89.0 C498.9,91.5 497.7,94.8 497.5,97.5 C497.3,100.2 499.2,102.5 500.0,105.0 C500.8,107.5 502.5,110.0 502.5,112.5 C502.5,115.0 500.6,117.5 500.0,120.0 C499.4,122.5 498.8,125.2 499.0,127.5 C499.2,129.8 499.8,132.3 501.0,134.0 C502.2,135.7 503.8,136.4 506.0,137.5 C508.2,138.6 511.5,140.1 514.0,140.5 C516.5,140.9 518.3,140.4 521.0,140.0 C523.7,139.6 527.3,138.5 530.0,138.0 C532.7,137.5 534.8,137.0 537.0,137.0 C539.2,137.0 541.0,137.7 543.0,138.0 C545.0,138.3 547.9,142.0 549.0,139.0 C550.1,136.0 549.5,126.5 549.6,120.0 C549.7,113.5 549.6,106.7 549.6,100.0 C549.6,93.3 549.7,84.5 549.5,80.0 Z" fill="#6c6c6c"/>
<path d="M549.5,80.0 C549.3,75.5 549.4,74.3 548.5,73.0 C547.6,71.7 546.1,72.2 544.0,72.0 C541.9,71.8 538.7,71.9 536.0,72.0 C533.3,72.1 530.7,72.1 528.0,72.8 C525.3,73.5 523.0,74.4 520.0,76.0 C517.0,77.6 513.2,80.3 510.0,82.5 C506.8,84.7 503.1,86.5 501.0,89.0 C498.9,91.5 497.7,94.8 497.5,97.5 C497.3,100.2 499.2,102.5 500.0,105.0 C500.8,107.5 502.5,110.0 502.5,112.5 C502.5,115.0 500.6,117.5 500.0,120.0 C499.4,122.5 498.8,125.2 499.0,127.5 C499.2,129.8 499.8,132.3 501.0,134.0 C502.2,135.7 503.8,136.4 506.0,137.5 C508.2,138.6 511.5,140.1 514.0,140.5 C516.5,140.9 518.3,140.4 521.0,140.0 C523.7,139.6 527.3,138.5 530.0,138.0 C532.7,137.5 534.8,137.0 537.0,137.0 C539.2,137.0 541.0,137.7 543.0,138.0 C545.0,138.3 547.9,142.0 549.0,139.0 C550.1,136.0 549.5,126.5 549.6,120.0 C549.7,113.5 549.6,106.7 549.6,100.0 C549.6,93.3 549.7,84.5 549.5,80.0 Z" fill="none" stroke="rgba(255,255,255,0.22)" stroke-width="7" filter="url(#b2)" clip-path="url(#c4)"/>
<path d="M549.5,80.0 C549.3,75.5 549.4,74.3 548.5,73.0 C547.6,71.7 546.1,72.2 544.0,72.0 C541.9,71.8 538.7,71.9 536.0,72.0 C533.3,72.1 530.7,72.1 528.0,72.8 C525.3,73.5 523.0,74.4 520.0,76.0 C517.0,77.6 513.2,80.3 510.0,82.5 C506.8,84.7 503.1,86.5 501.0,89.0 C498.9,91.5 497.7,94.8 497.5,97.5 C497.3,100.2 499.2,102.5 500.0,105.0 C500.8,107.5 502.5,110.0 502.5,112.5 C502.5,115.0 500.6,117.5 500.0,120.0 C499.4,122.5 498.8,125.2 499.0,127.5 C499.2,129.8 499.8,132.3 501.0,134.0 C502.2,135.7 503.8,136.4 506.0,137.5 C508.2,138.6 511.5,140.1 514.0,140.5 C516.5,140.9 518.3,140.4 521.0,140.0 C523.7,139.6 527.3,138.5 530.0,138.0 C532.7,137.5 534.8,137.0 537.0,137.0 C539.2,137.0 541.0,137.7 543.0,138.0 C545.0,138.3 547.9,142.0 549.0,139.0 C550.1,136.0 549.5,126.5 549.6,120.0 C549.7,113.5 549.6,106.7 549.6,100.0 C549.6,93.3 549.7,84.5 549.5,80.0 Z" fill="none" stroke="#5a5a5a" stroke-width="0.8"/>
<path d="M559.5,80.0 C559.7,75.5 559.6,74.3 560.5,73.0 C561.4,71.7 562.9,72.2 565.0,72.0 C567.1,71.8 570.0,71.8 573.0,72.0 C576.0,72.2 579.5,72.4 583.0,73.0 C586.5,73.6 590.5,74.3 594.0,75.5 C597.5,76.7 601.3,78.1 604.0,80.0 C606.7,81.9 608.5,84.4 610.0,87.0 C611.5,89.6 612.6,92.0 613.0,95.5 C613.4,99.0 612.7,104.7 612.6,108.0 C612.5,111.3 613.1,112.3 612.6,115.5 C612.1,118.7 610.9,123.6 609.7,126.9 C608.5,130.2 607.6,133.3 605.5,135.4 C603.4,137.5 599.9,138.8 597.0,139.7 C594.1,140.6 591.7,141.2 588.4,141.0 C585.1,140.8 580.3,139.0 577.0,138.3 C573.7,137.6 570.8,136.6 568.4,136.8 C566.0,137.0 564.2,139.3 562.7,139.7 C561.2,140.1 560.0,142.3 559.5,139.0 C559.0,135.7 559.4,126.5 559.4,120.0 C559.4,113.5 559.4,106.7 559.4,100.0 C559.4,93.3 559.3,84.5 559.5,80.0 Z" fill="#6c6c6c"/>
<path d="M559.5,80.0 C559.7,75.5 559.6,74.3 560.5,73.0 C561.4,71.7 562.9,72.2 565.0,72.0 C567.1,71.8 570.0,71.8 573.0,72.0 C576.0,72.2 579.5,72.4 583.0,73.0 C586.5,73.6 590.5,74.3 594.0,75.5 C597.5,76.7 601.3,78.1 604.0,80.0 C606.7,81.9 608.5,84.4 610.0,87.0 C611.5,89.6 612.6,92.0 613.0,95.5 C613.4,99.0 612.7,104.7 612.6,108.0 C612.5,111.3 613.1,112.3 612.6,115.5 C612.1,118.7 610.9,123.6 609.7,126.9 C608.5,130.2 607.6,133.3 605.5,135.4 C603.4,137.5 599.9,138.8 597.0,139.7 C594.1,140.6 591.7,141.2 588.4,141.0 C585.1,140.8 580.3,139.0 577.0,138.3 C573.7,137.6 570.8,136.6 568.4,136.8 C566.0,137.0 564.2,139.3 562.7,139.7 C561.2,140.1 560.0,142.3 559.5,139.0 C559.0,135.7 559.4,126.5 559.4,120.0 C559.4,113.5 559.4,106.7 559.4,100.0 C559.4,93.3 559.3,84.5 559.5,80.0 Z" fill="none" stroke="rgba(255,255,255,0.22)" stroke-width="7" filter="url(#b2)" clip-path="url(#c5)"/>
<path d="M559.5,80.0 C559.7,75.5 559.6,74.3 560.5,73.0 C561.4,71.7 562.9,72.2 565.0,72.0 C567.1,71.8 570.0,71.8 573.0,72.0 C576.0,72.2 579.5,72.4 583.0,73.0 C586.5,73.6 590.5,74.3 594.0,75.5 C597.5,76.7 601.3,78.1 604.0,80.0 C606.7,81.9 608.5,84.4 610.0,87.0 C611.5,89.6 612.6,92.0 613.0,95.5 C613.4,99.0 612.7,104.7 612.6,108.0 C612.5,111.3 613.1,112.3 612.6,115.5 C612.1,118.7 610.9,123.6 609.7,126.9 C608.5,130.2 607.6,133.3 605.5,135.4 C603.4,137.5 599.9,138.8 597.0,139.7 C594.1,140.6 591.7,141.2 588.4,141.0 C585.1,140.8 580.3,139.0 577.0,138.3 C573.7,137.6 570.8,136.6 568.4,136.8 C566.0,137.0 564.2,139.3 562.7,139.7 C561.2,140.1 560.0,142.3 559.5,139.0 C559.0,135.7 559.4,126.5 559.4,120.0 C559.4,113.5 559.4,106.7 559.4,100.0 C559.4,93.3 559.3,84.5 559.5,80.0 Z" fill="none" stroke="#5a5a5a" stroke-width="0.8"/>
<path d="M532.5,88.0 C534.0,88.0 536.5,88.2 538.0,89.0 C539.5,89.8 540.8,91.3 541.5,93.0 C542.2,94.7 542.2,97.0 542.0,99.0 C541.8,101.0 540.8,103.2 540.5,105.0 C540.2,106.8 540.2,108.0 540.5,110.0 C540.8,112.0 542.4,114.7 542.5,117.0 C542.6,119.3 541.8,121.7 541.0,124.0 C540.2,126.3 538.9,128.8 538.0,131.0 C537.1,133.2 536.3,136.7 535.5,137.0 C534.7,137.3 533.9,135.0 533.0,133.0 C532.1,131.0 531.0,127.7 530.0,125.0 C529.0,122.3 527.8,119.8 527.0,117.0 C526.2,114.2 525.4,110.8 525.0,108.0 C524.6,105.2 524.3,102.5 524.5,100.0 C524.7,97.5 525.2,94.8 526.0,93.0 C526.8,91.2 527.9,89.8 529.0,89.0 C530.1,88.2 531.0,88.0 532.5,88.0 Z" style="fill:#fff;stroke:#666;stroke-width:0.7"/>
<path d="M577.5,88.0 C579.0,88.1 580.7,88.5 582.0,89.5 C583.3,90.5 584.8,92.2 585.5,94.0 C586.2,95.8 586.2,97.7 586.0,100.0 C585.8,102.3 584.8,105.2 584.0,108.0 C583.2,110.8 582.2,114.0 581.0,117.0 C579.8,120.0 578.5,123.2 577.0,126.0 C575.5,128.8 573.2,132.2 572.0,134.0 C570.8,135.8 570.5,137.5 570.0,137.0 C569.5,136.5 569.1,133.2 569.0,131.0 C568.9,128.8 569.7,126.5 569.5,124.0 C569.3,121.5 568.3,118.7 568.0,116.0 C567.7,113.3 567.5,110.7 567.5,108.0 C567.5,105.3 567.7,102.5 568.0,100.0 C568.3,97.5 568.7,94.8 569.5,93.0 C570.3,91.2 571.7,89.8 573.0,89.0 C574.3,88.2 576.0,87.9 577.5,88.0 Z" style="fill:#fff;stroke:#666;stroke-width:0.7"/>
<rect x="550" y="70" width="8.5" height="76" fill="#cfcfcf"/>
<rect x="552.6" y="72" width="4.6" height="70" fill="#fff"/>
<path d="M516.8,140.0 C517.7,138.4 527.2,138.7 530.0,138.5 C532.8,138.3 543.5,131.8 545.0,138.5 C546.5,145.2 545.9,198.4 545.0,205.0 C544.1,211.6 537.8,204.5 536.4,204.0 C535.0,203.5 532.3,201.4 531.3,200.3 C530.3,199.2 527.1,195.0 526.2,193.5 C525.3,192.0 523.1,187.2 522.7,185.0 C522.4,182.8 522.4,173.5 522.7,171.3 C523.0,169.1 525.5,164.4 525.3,162.7 C525.1,161.0 521.9,156.5 521.0,154.2 C520.1,151.9 515.9,141.6 516.8,140.0 Z" style="fill:#fff;stroke:#888;stroke-width:0.8"/>
<path d="M559.0,140.5 C560.1,134.2 567.9,141.7 570.0,142.0 C572.1,142.3 577.7,143.1 580.0,143.5 C582.3,143.9 591.9,144.4 592.8,146.0 C593.7,147.6 590.1,157.5 589.4,159.3 C588.7,161.1 586.1,163.2 586.0,164.4 C585.9,165.6 588.3,168.9 588.5,171.3 C588.7,173.7 588.3,185.7 587.7,188.4 C587.1,191.1 583.8,197.1 582.6,198.6 C581.4,200.1 578.1,203.2 575.7,203.8 C573.3,204.4 560.7,211.3 559.0,205.0 C557.3,198.7 557.9,146.8 559.0,140.5 Z" style="fill:#fff;stroke:#888;stroke-width:0.8"/>
<path d="M549.0,138.0 C547.1,138.8 547.9,141.2 547.0,143.0 C546.1,144.8 543.8,145.7 543.5,149.0 C543.2,152.3 544.9,159.0 545.0,162.7 C545.1,166.4 544.3,166.5 544.0,171.3 C543.7,176.2 543.3,185.0 543.2,191.8 C543.1,198.6 542.9,207.5 543.2,212.3 C543.5,217.2 543.3,218.5 545.0,220.9 C546.7,223.3 550.7,226.2 553.5,226.5 C556.3,226.8 560.0,224.4 562.0,222.6 C564.0,220.8 564.9,220.8 565.5,215.7 C566.1,210.6 565.6,199.2 565.5,191.8 C565.4,184.4 564.6,176.4 564.6,171.3 C564.6,166.2 565.4,164.7 565.5,161.0 C565.6,157.3 566.4,151.8 565.5,149.0 C564.6,146.2 561.4,145.8 560.3,144.0 C559.1,142.2 560.5,139.0 558.6,138.0 C556.7,137.0 550.9,137.2 549.0,138.0 Z" style="fill:#dcdcdc;stroke:#8c8c8c;stroke-width:0.9"/>
<path d="M476.0,330.0 C477.0,327.6 478.6,324.4 483.0,322.5 C487.4,320.6 496.1,320.1 502.7,318.5 C509.3,316.9 516.1,314.1 522.7,312.8 C529.4,311.5 535.0,310.6 542.6,310.5 C550.2,310.4 560.2,311.2 568.3,312.5 C576.4,313.8 583.4,316.3 591.0,318.0 C598.6,319.7 607.6,321.2 613.8,322.5 C620.0,323.8 624.9,324.1 628.0,325.6 C631.1,327.1 632.1,329.1 632.4,331.3 C632.7,333.5 631.5,336.1 629.6,338.8 C627.7,341.5 623.1,344.8 621.0,347.4 C618.9,350.0 617.7,351.5 616.8,354.2 C615.9,356.9 616.8,360.6 615.5,363.5 C614.2,366.4 611.2,368.9 609.0,371.3 C606.8,373.7 603.8,375.8 602.2,378.1 C600.7,380.4 600.1,382.1 599.7,385.0 C599.3,387.9 599.3,392.1 599.7,395.2 C600.1,398.3 600.9,400.9 602.2,403.8 C603.5,406.7 605.1,409.5 607.4,412.3 C609.7,415.1 613.6,418.3 615.9,420.9 C618.2,423.5 619.5,424.5 621.0,427.7 C622.5,430.9 623.4,436.4 624.9,439.8 C626.4,443.2 627.8,445.5 629.9,447.8 C632.0,450.1 635.1,451.8 637.8,453.8 C640.4,455.8 643.8,457.4 645.8,459.7 C647.8,462.0 648.1,465.0 649.8,467.7 C651.5,470.4 653.1,473.0 655.8,475.7 C658.5,478.4 662.8,481.0 665.8,483.7 C668.8,486.4 672.0,489.4 673.7,491.6 C675.4,493.8 678.0,494.9 676.0,497.0 C674.0,499.1 666.3,502.2 662.0,504.0 C657.7,505.8 652.8,509.2 650.0,508.0 C647.2,506.8 647.3,500.7 645.0,497.0 C642.7,493.3 639.9,488.9 636.0,486.0 C632.1,483.1 626.9,482.1 621.9,479.7 C616.9,477.3 611.3,474.5 606.0,471.7 C600.7,468.9 596.0,465.4 590.0,463.0 C584.0,460.6 577.4,458.2 570.0,457.0 C562.6,455.8 552.9,455.6 545.5,455.8 C538.1,456.0 532.1,456.3 525.5,458.0 C518.9,459.7 511.4,463.3 505.6,466.0 C499.9,468.7 496.3,471.6 491.0,474.0 C485.7,476.4 478.7,478.6 474.0,480.4 C469.3,482.2 466.2,483.3 463.0,484.7 C459.8,486.1 457.5,489.8 455.0,489.0 C452.5,488.2 447.5,483.2 448.0,480.0 C448.5,476.8 454.8,475.3 458.0,470.0 C461.2,464.7 464.5,452.7 467.5,448.4 C470.5,444.1 473.9,445.8 476.0,444.0 C478.1,442.2 479.5,440.2 480.3,437.7 C481.1,435.2 480.1,431.6 481.0,429.1 C481.9,426.6 483.3,425.6 486.0,422.7 C488.7,419.8 493.9,415.2 497.4,412.0 C500.9,408.8 505.0,406.3 507.0,403.5 C509.0,400.7 509.3,398.1 509.6,395.0 C509.9,391.9 509.6,387.8 508.7,384.7 C507.8,381.6 506.2,378.8 504.4,376.2 C502.5,373.6 499.9,371.6 497.6,369.3 C495.3,367.0 492.1,364.8 490.8,362.5 C489.5,360.2 490.6,358.2 490.0,355.6 C489.4,353.0 489.6,350.1 487.4,347.0 C485.2,343.9 478.9,339.6 477.0,336.8 C475.1,334.0 475.0,332.4 476.0,330.0 Z" fill="#d4d4d4"/>
<path d="M512,418 L490,445 L458,482" stroke="rgba(0,0,0,0.12)" stroke-width="24" fill="none" filter="url(#b6)" clip-path="url(#c6)"/>
<path d="M598,418 L628,452 L670,492" stroke="rgba(0,0,0,0.08)" stroke-width="24" fill="none" filter="url(#b6)" clip-path="url(#c6)"/>
<path d="M485,474 Q545,445 615,470" stroke="rgba(0,0,0,0.10)" stroke-width="12" fill="none" filter="url(#b4)" clip-path="url(#c6)"/>
<path d="M482,330 Q550,318 628,332" stroke="rgba(0,0,0,0.09)" stroke-width="18" fill="none" filter="url(#b6)" clip-path="url(#c6)"/>
<path d="M476.0,330.0 C477.0,327.6 478.6,324.4 483.0,322.5 C487.4,320.6 496.1,320.1 502.7,318.5 C509.3,316.9 516.1,314.1 522.7,312.8 C529.4,311.5 535.0,310.6 542.6,310.5 C550.2,310.4 560.2,311.2 568.3,312.5 C576.4,313.8 583.4,316.3 591.0,318.0 C598.6,319.7 607.6,321.2 613.8,322.5 C620.0,323.8 624.9,324.1 628.0,325.6 C631.1,327.1 632.1,329.1 632.4,331.3 C632.7,333.5 631.5,336.1 629.6,338.8 C627.7,341.5 623.1,344.8 621.0,347.4 C618.9,350.0 617.7,351.5 616.8,354.2 C615.9,356.9 616.8,360.6 615.5,363.5 C614.2,366.4 611.2,368.9 609.0,371.3 C606.8,373.7 603.8,375.8 602.2,378.1 C600.7,380.4 600.1,382.1 599.7,385.0 C599.3,387.9 599.3,392.1 599.7,395.2 C600.1,398.3 600.9,400.9 602.2,403.8 C603.5,406.7 605.1,409.5 607.4,412.3 C609.7,415.1 613.6,418.3 615.9,420.9 C618.2,423.5 619.5,424.5 621.0,427.7 C622.5,430.9 623.4,436.4 624.9,439.8 C626.4,443.2 627.8,445.5 629.9,447.8 C632.0,450.1 635.1,451.8 637.8,453.8 C640.4,455.8 643.8,457.4 645.8,459.7 C647.8,462.0 648.1,465.0 649.8,467.7 C651.5,470.4 653.1,473.0 655.8,475.7 C658.5,478.4 662.8,481.0 665.8,483.7 C668.8,486.4 672.0,489.4 673.7,491.6 C675.4,493.8 678.0,494.9 676.0,497.0 C674.0,499.1 666.3,502.2 662.0,504.0 C657.7,505.8 652.8,509.2 650.0,508.0 C647.2,506.8 647.3,500.7 645.0,497.0 C642.7,493.3 639.9,488.9 636.0,486.0 C632.1,483.1 626.9,482.1 621.9,479.7 C616.9,477.3 611.3,474.5 606.0,471.7 C600.7,468.9 596.0,465.4 590.0,463.0 C584.0,460.6 577.4,458.2 570.0,457.0 C562.6,455.8 552.9,455.6 545.5,455.8 C538.1,456.0 532.1,456.3 525.5,458.0 C518.9,459.7 511.4,463.3 505.6,466.0 C499.9,468.7 496.3,471.6 491.0,474.0 C485.7,476.4 478.7,478.6 474.0,480.4 C469.3,482.2 466.2,483.3 463.0,484.7 C459.8,486.1 457.5,489.8 455.0,489.0 C452.5,488.2 447.5,483.2 448.0,480.0 C448.5,476.8 454.8,475.3 458.0,470.0 C461.2,464.7 464.5,452.7 467.5,448.4 C470.5,444.1 473.9,445.8 476.0,444.0 C478.1,442.2 479.5,440.2 480.3,437.7 C481.1,435.2 480.1,431.6 481.0,429.1 C481.9,426.6 483.3,425.6 486.0,422.7 C488.7,419.8 493.9,415.2 497.4,412.0 C500.9,408.8 505.0,406.3 507.0,403.5 C509.0,400.7 509.3,398.1 509.6,395.0 C509.9,391.9 509.6,387.8 508.7,384.7 C507.8,381.6 506.2,378.8 504.4,376.2 C502.5,373.6 499.9,371.6 497.6,369.3 C495.3,367.0 492.1,364.8 490.8,362.5 C489.5,360.2 490.6,358.2 490.0,355.6 C489.4,353.0 489.6,350.1 487.4,347.0 C485.2,343.9 478.9,339.6 477.0,336.8 C475.1,334.0 475.0,332.4 476.0,330.0 Z" fill="none" stroke="#848484" stroke-width="22" filter="url(#b6)" clip-path="url(#c6)"/>
<path d="M476.0,330.0 C477.0,327.6 478.6,324.4 483.0,322.5 C487.4,320.6 496.1,320.1 502.7,318.5 C509.3,316.9 516.1,314.1 522.7,312.8 C529.4,311.5 535.0,310.6 542.6,310.5 C550.2,310.4 560.2,311.2 568.3,312.5 C576.4,313.8 583.4,316.3 591.0,318.0 C598.6,319.7 607.6,321.2 613.8,322.5 C620.0,323.8 624.9,324.1 628.0,325.6 C631.1,327.1 632.1,329.1 632.4,331.3 C632.7,333.5 631.5,336.1 629.6,338.8 C627.7,341.5 623.1,344.8 621.0,347.4 C618.9,350.0 617.7,351.5 616.8,354.2 C615.9,356.9 616.8,360.6 615.5,363.5 C614.2,366.4 611.2,368.9 609.0,371.3 C606.8,373.7 603.8,375.8 602.2,378.1 C600.7,380.4 600.1,382.1 599.7,385.0 C599.3,387.9 599.3,392.1 599.7,395.2 C600.1,398.3 600.9,400.9 602.2,403.8 C603.5,406.7 605.1,409.5 607.4,412.3 C609.7,415.1 613.6,418.3 615.9,420.9 C618.2,423.5 619.5,424.5 621.0,427.7 C622.5,430.9 623.4,436.4 624.9,439.8 C626.4,443.2 627.8,445.5 629.9,447.8 C632.0,450.1 635.1,451.8 637.8,453.8 C640.4,455.8 643.8,457.4 645.8,459.7 C647.8,462.0 648.1,465.0 649.8,467.7 C651.5,470.4 653.1,473.0 655.8,475.7 C658.5,478.4 662.8,481.0 665.8,483.7 C668.8,486.4 672.0,489.4 673.7,491.6 C675.4,493.8 678.0,494.9 676.0,497.0 C674.0,499.1 666.3,502.2 662.0,504.0 C657.7,505.8 652.8,509.2 650.0,508.0 C647.2,506.8 647.3,500.7 645.0,497.0 C642.7,493.3 639.9,488.9 636.0,486.0 C632.1,483.1 626.9,482.1 621.9,479.7 C616.9,477.3 611.3,474.5 606.0,471.7 C600.7,468.9 596.0,465.4 590.0,463.0 C584.0,460.6 577.4,458.2 570.0,457.0 C562.6,455.8 552.9,455.6 545.5,455.8 C538.1,456.0 532.1,456.3 525.5,458.0 C518.9,459.7 511.4,463.3 505.6,466.0 C499.9,468.7 496.3,471.6 491.0,474.0 C485.7,476.4 478.7,478.6 474.0,480.4 C469.3,482.2 466.2,483.3 463.0,484.7 C459.8,486.1 457.5,489.8 455.0,489.0 C452.5,488.2 447.5,483.2 448.0,480.0 C448.5,476.8 454.8,475.3 458.0,470.0 C461.2,464.7 464.5,452.7 467.5,448.4 C470.5,444.1 473.9,445.8 476.0,444.0 C478.1,442.2 479.5,440.2 480.3,437.7 C481.1,435.2 480.1,431.6 481.0,429.1 C481.9,426.6 483.3,425.6 486.0,422.7 C488.7,419.8 493.9,415.2 497.4,412.0 C500.9,408.8 505.0,406.3 507.0,403.5 C509.0,400.7 509.3,398.1 509.6,395.0 C509.9,391.9 509.6,387.8 508.7,384.7 C507.8,381.6 506.2,378.8 504.4,376.2 C502.5,373.6 499.9,371.6 497.6,369.3 C495.3,367.0 492.1,364.8 490.8,362.5 C489.5,360.2 490.6,358.2 490.0,355.6 C489.4,353.0 489.6,350.1 487.4,347.0 C485.2,343.9 478.9,339.6 477.0,336.8 C475.1,334.0 475.0,332.4 476.0,330.0 Z" fill="none" stroke="#7a7a7a" stroke-width="0.8"/>
<path d="M347.8,387.0 C348.9,385.2 350.6,386.2 352.0,386.5 C353.4,386.8 355.0,386.0 356.4,388.5 C357.8,391.0 358.8,397.7 360.6,401.3 C362.4,404.9 364.1,407.0 367.0,409.9 C369.9,412.8 374.5,415.5 377.7,418.4 C380.9,421.2 383.8,424.1 386.3,427.0 C388.8,429.9 390.8,432.2 392.7,435.5 C394.6,438.8 395.1,443.8 398.0,447.0 C400.9,450.2 404.7,453.2 410.0,455.0 C415.3,456.8 423.7,458.0 430.0,458.0 C436.3,458.0 442.7,456.3 448.0,455.0 C453.3,453.7 458.2,451.5 462.0,450.0 C465.8,448.5 470.0,444.8 471.0,446.0 C472.0,447.2 469.7,453.7 468.0,457.0 C466.3,460.3 462.5,463.5 461.0,466.0 C459.5,468.5 459.7,469.3 459.0,472.0 C458.3,474.7 457.0,479.3 457.0,482.0 C457.0,484.7 458.4,486.0 459.0,488.0 C459.6,490.0 460.1,491.7 460.5,494.0 C460.9,496.3 461.7,499.8 461.1,501.8 C460.5,503.8 459.3,506.0 456.8,506.0 C454.3,506.0 449.7,503.2 446.1,501.8 C442.5,500.4 438.9,499.6 435.4,497.5 C431.8,495.4 428.4,492.2 424.8,489.0 C421.2,485.8 418.4,481.9 414.1,478.3 C409.8,474.7 404.1,470.8 399.1,467.6 C394.1,464.4 389.2,461.9 384.2,459.0 C379.2,456.1 373.5,453.3 369.2,450.5 C364.9,447.7 361.4,445.6 358.5,442.0 C355.6,438.4 353.9,434.0 352.1,429.0 C350.3,424.0 348.9,417.3 347.8,412.0 C346.7,406.7 345.7,401.2 345.7,397.0 C345.7,392.8 346.8,388.8 347.8,387.0 Z" fill="url(#gBandL)"/>
<path d="M347.8,387.0 C348.9,385.2 350.6,386.2 352.0,386.5 C353.4,386.8 355.0,386.0 356.4,388.5 C357.8,391.0 358.8,397.7 360.6,401.3 C362.4,404.9 364.1,407.0 367.0,409.9 C369.9,412.8 374.5,415.5 377.7,418.4 C380.9,421.2 383.8,424.1 386.3,427.0 C388.8,429.9 390.8,432.2 392.7,435.5 C394.6,438.8 395.1,443.8 398.0,447.0 C400.9,450.2 404.7,453.2 410.0,455.0 C415.3,456.8 423.7,458.0 430.0,458.0 C436.3,458.0 442.7,456.3 448.0,455.0 C453.3,453.7 458.2,451.5 462.0,450.0 C465.8,448.5 470.0,444.8 471.0,446.0 C472.0,447.2 469.7,453.7 468.0,457.0 C466.3,460.3 462.5,463.5 461.0,466.0 C459.5,468.5 459.7,469.3 459.0,472.0 C458.3,474.7 457.0,479.3 457.0,482.0 C457.0,484.7 458.4,486.0 459.0,488.0 C459.6,490.0 460.1,491.7 460.5,494.0 C460.9,496.3 461.7,499.8 461.1,501.8 C460.5,503.8 459.3,506.0 456.8,506.0 C454.3,506.0 449.7,503.2 446.1,501.8 C442.5,500.4 438.9,499.6 435.4,497.5 C431.8,495.4 428.4,492.2 424.8,489.0 C421.2,485.8 418.4,481.9 414.1,478.3 C409.8,474.7 404.1,470.8 399.1,467.6 C394.1,464.4 389.2,461.9 384.2,459.0 C379.2,456.1 373.5,453.3 369.2,450.5 C364.9,447.7 361.4,445.6 358.5,442.0 C355.6,438.4 353.9,434.0 352.1,429.0 C350.3,424.0 348.9,417.3 347.8,412.0 C346.7,406.7 345.7,401.2 345.7,397.0 C345.7,392.8 346.8,388.8 347.8,387.0 Z" fill="none" stroke="#6a6a6a" stroke-width="6" filter="url(#b2)" clip-path="url(#c7)"/>
<path d="M347.8,387.0 C348.9,385.2 350.6,386.2 352.0,386.5 C353.4,386.8 355.0,386.0 356.4,388.5 C357.8,391.0 358.8,397.7 360.6,401.3 C362.4,404.9 364.1,407.0 367.0,409.9 C369.9,412.8 374.5,415.5 377.7,418.4 C380.9,421.2 383.8,424.1 386.3,427.0 C388.8,429.9 390.8,432.2 392.7,435.5 C394.6,438.8 395.1,443.8 398.0,447.0 C400.9,450.2 404.7,453.2 410.0,455.0 C415.3,456.8 423.7,458.0 430.0,458.0 C436.3,458.0 442.7,456.3 448.0,455.0 C453.3,453.7 458.2,451.5 462.0,450.0 C465.8,448.5 470.0,444.8 471.0,446.0 C472.0,447.2 469.7,453.7 468.0,457.0 C466.3,460.3 462.5,463.5 461.0,466.0 C459.5,468.5 459.7,469.3 459.0,472.0 C458.3,474.7 457.0,479.3 457.0,482.0 C457.0,484.7 458.4,486.0 459.0,488.0 C459.6,490.0 460.1,491.7 460.5,494.0 C460.9,496.3 461.7,499.8 461.1,501.8 C460.5,503.8 459.3,506.0 456.8,506.0 C454.3,506.0 449.7,503.2 446.1,501.8 C442.5,500.4 438.9,499.6 435.4,497.5 C431.8,495.4 428.4,492.2 424.8,489.0 C421.2,485.8 418.4,481.9 414.1,478.3 C409.8,474.7 404.1,470.8 399.1,467.6 C394.1,464.4 389.2,461.9 384.2,459.0 C379.2,456.1 373.5,453.3 369.2,450.5 C364.9,447.7 361.4,445.6 358.5,442.0 C355.6,438.4 353.9,434.0 352.1,429.0 C350.3,424.0 348.9,417.3 347.8,412.0 C346.7,406.7 345.7,401.2 345.7,397.0 C345.7,392.8 346.8,388.8 347.8,387.0 Z" fill="none" stroke="#666" stroke-width="0.8"/>
<path d="M755.5,390.0 C756.8,389.2 758.1,388.8 759.5,389.0 C760.9,389.2 763.0,390.2 764.0,391.0 C765.0,391.8 765.3,392.5 765.4,394.0 C765.5,395.5 764.8,398.0 764.5,400.0 C764.2,402.0 763.9,402.7 763.4,406.0 C762.9,409.3 762.1,415.7 761.5,420.0 C760.9,424.3 760.8,427.8 759.5,431.8 C758.2,435.8 756.5,439.8 753.5,443.8 C750.5,447.8 745.5,452.2 741.5,455.8 C737.5,459.4 733.6,462.7 729.6,465.7 C725.6,468.7 722.3,471.0 717.6,473.7 C712.9,476.4 706.9,479.0 701.6,481.7 C696.3,484.4 690.4,487.0 685.7,489.6 C681.1,492.2 677.3,495.0 673.7,497.6 C670.1,500.2 667.1,502.9 664.0,505.0 C660.9,507.1 657.7,509.2 655.0,510.5 C652.3,511.8 649.5,513.4 648.0,513.0 C646.5,512.6 646.3,510.2 646.0,508.0 C645.7,505.8 645.7,502.0 646.0,500.0 C646.3,498.0 647.0,497.2 648.0,496.0 C649.0,494.8 650.3,494.3 652.0,493.0 C653.7,491.7 655.7,489.9 658.0,488.0 C660.3,486.1 664.2,484.8 665.8,481.7 C667.4,478.6 666.5,472.7 667.8,469.7 C669.1,466.7 670.0,465.0 673.7,463.7 C677.4,462.4 684.7,463.0 690.0,462.0 C695.3,461.0 701.7,460.2 705.6,457.8 C709.5,455.4 711.9,451.1 713.6,447.8 C715.3,444.5 714.9,440.5 715.6,437.8 C716.3,435.1 715.3,433.8 717.6,431.8 C719.9,429.8 726.3,427.8 729.6,425.8 C732.9,423.8 735.5,422.0 737.5,420.0 C739.5,418.0 739.8,416.7 741.5,414.0 C743.2,411.3 745.8,407.3 747.5,404.0 C749.2,400.7 750.2,396.3 751.5,394.0 C752.8,391.7 754.2,390.8 755.5,390.0 Z" fill="url(#gBandR)"/>
<path d="M755.5,390.0 C756.8,389.2 758.1,388.8 759.5,389.0 C760.9,389.2 763.0,390.2 764.0,391.0 C765.0,391.8 765.3,392.5 765.4,394.0 C765.5,395.5 764.8,398.0 764.5,400.0 C764.2,402.0 763.9,402.7 763.4,406.0 C762.9,409.3 762.1,415.7 761.5,420.0 C760.9,424.3 760.8,427.8 759.5,431.8 C758.2,435.8 756.5,439.8 753.5,443.8 C750.5,447.8 745.5,452.2 741.5,455.8 C737.5,459.4 733.6,462.7 729.6,465.7 C725.6,468.7 722.3,471.0 717.6,473.7 C712.9,476.4 706.9,479.0 701.6,481.7 C696.3,484.4 690.4,487.0 685.7,489.6 C681.1,492.2 677.3,495.0 673.7,497.6 C670.1,500.2 667.1,502.9 664.0,505.0 C660.9,507.1 657.7,509.2 655.0,510.5 C652.3,511.8 649.5,513.4 648.0,513.0 C646.5,512.6 646.3,510.2 646.0,508.0 C645.7,505.8 645.7,502.0 646.0,500.0 C646.3,498.0 647.0,497.2 648.0,496.0 C649.0,494.8 650.3,494.3 652.0,493.0 C653.7,491.7 655.7,489.9 658.0,488.0 C660.3,486.1 664.2,484.8 665.8,481.7 C667.4,478.6 666.5,472.7 667.8,469.7 C669.1,466.7 670.0,465.0 673.7,463.7 C677.4,462.4 684.7,463.0 690.0,462.0 C695.3,461.0 701.7,460.2 705.6,457.8 C709.5,455.4 711.9,451.1 713.6,447.8 C715.3,444.5 714.9,440.5 715.6,437.8 C716.3,435.1 715.3,433.8 717.6,431.8 C719.9,429.8 726.3,427.8 729.6,425.8 C732.9,423.8 735.5,422.0 737.5,420.0 C739.5,418.0 739.8,416.7 741.5,414.0 C743.2,411.3 745.8,407.3 747.5,404.0 C749.2,400.7 750.2,396.3 751.5,394.0 C752.8,391.7 754.2,390.8 755.5,390.0 Z" fill="none" stroke="#6a6a6a" stroke-width="6" filter="url(#b2)" clip-path="url(#c8)"/>
<path d="M755.5,390.0 C756.8,389.2 758.1,388.8 759.5,389.0 C760.9,389.2 763.0,390.2 764.0,391.0 C765.0,391.8 765.3,392.5 765.4,394.0 C765.5,395.5 764.8,398.0 764.5,400.0 C764.2,402.0 763.9,402.7 763.4,406.0 C762.9,409.3 762.1,415.7 761.5,420.0 C760.9,424.3 760.8,427.8 759.5,431.8 C758.2,435.8 756.5,439.8 753.5,443.8 C750.5,447.8 745.5,452.2 741.5,455.8 C737.5,459.4 733.6,462.7 729.6,465.7 C725.6,468.7 722.3,471.0 717.6,473.7 C712.9,476.4 706.9,479.0 701.6,481.7 C696.3,484.4 690.4,487.0 685.7,489.6 C681.1,492.2 677.3,495.0 673.7,497.6 C670.1,500.2 667.1,502.9 664.0,505.0 C660.9,507.1 657.7,509.2 655.0,510.5 C652.3,511.8 649.5,513.4 648.0,513.0 C646.5,512.6 646.3,510.2 646.0,508.0 C645.7,505.8 645.7,502.0 646.0,500.0 C646.3,498.0 647.0,497.2 648.0,496.0 C649.0,494.8 650.3,494.3 652.0,493.0 C653.7,491.7 655.7,489.9 658.0,488.0 C660.3,486.1 664.2,484.8 665.8,481.7 C667.4,478.6 666.5,472.7 667.8,469.7 C669.1,466.7 670.0,465.0 673.7,463.7 C677.4,462.4 684.7,463.0 690.0,462.0 C695.3,461.0 701.7,460.2 705.6,457.8 C709.5,455.4 711.9,451.1 713.6,447.8 C715.3,444.5 714.9,440.5 715.6,437.8 C716.3,435.1 715.3,433.8 717.6,431.8 C719.9,429.8 726.3,427.8 729.6,425.8 C732.9,423.8 735.5,422.0 737.5,420.0 C739.5,418.0 739.8,416.7 741.5,414.0 C743.2,411.3 745.8,407.3 747.5,404.0 C749.2,400.7 750.2,396.3 751.5,394.0 C752.8,391.7 754.2,390.8 755.5,390.0 Z" fill="none" stroke="#666" stroke-width="0.8"/>
<path d="M375.6,382.1 C378.5,379.6 385.2,375.1 390.6,373.5 C396.0,371.9 402.0,371.9 407.7,372.5 C413.4,373.1 419.1,375.4 424.8,376.8 C430.5,378.2 437.3,379.1 441.9,381.0 C446.5,382.9 448.9,385.5 452.5,388.5 C456.1,391.5 459.6,396.3 463.2,399.2 C466.8,402.1 471.4,403.1 473.9,405.6 C476.4,408.1 477.8,411.4 478.2,414.2 C478.6,417.0 476.7,419.8 476.0,422.7 C475.3,425.6 474.6,428.1 473.9,431.3 C473.2,434.5 473.6,438.8 471.8,442.0 C470.0,445.2 466.8,448.4 463.2,450.5 C459.6,452.6 455.4,453.4 450.4,454.8 C445.4,456.2 439.0,458.3 433.3,459.0 C427.6,459.7 421.5,459.7 416.2,459.0 C410.9,458.3 404.9,456.6 401.3,454.8 C397.7,453.0 396.2,451.2 394.8,448.4 C393.4,445.5 393.4,441.3 392.7,437.7 C392.0,434.1 392.0,429.9 390.6,427.0 C389.2,424.1 386.7,422.7 384.2,420.6 C381.7,418.5 377.8,416.4 375.6,414.2 C373.5,412.0 371.8,410.6 371.3,407.7 C370.8,404.8 372.0,400.2 372.4,397.0 C372.8,393.8 373.0,391.0 373.5,388.5 C374.0,386.0 372.8,384.6 375.6,382.1 Z" fill="url(#gOticL)"/>
<path d="M375.6,382.1 C378.5,379.6 385.2,375.1 390.6,373.5 C396.0,371.9 402.0,371.9 407.7,372.5 C413.4,373.1 419.1,375.4 424.8,376.8 C430.5,378.2 437.3,379.1 441.9,381.0 C446.5,382.9 448.9,385.5 452.5,388.5 C456.1,391.5 459.6,396.3 463.2,399.2 C466.8,402.1 471.4,403.1 473.9,405.6 C476.4,408.1 477.8,411.4 478.2,414.2 C478.6,417.0 476.7,419.8 476.0,422.7 C475.3,425.6 474.6,428.1 473.9,431.3 C473.2,434.5 473.6,438.8 471.8,442.0 C470.0,445.2 466.8,448.4 463.2,450.5 C459.6,452.6 455.4,453.4 450.4,454.8 C445.4,456.2 439.0,458.3 433.3,459.0 C427.6,459.7 421.5,459.7 416.2,459.0 C410.9,458.3 404.9,456.6 401.3,454.8 C397.7,453.0 396.2,451.2 394.8,448.4 C393.4,445.5 393.4,441.3 392.7,437.7 C392.0,434.1 392.0,429.9 390.6,427.0 C389.2,424.1 386.7,422.7 384.2,420.6 C381.7,418.5 377.8,416.4 375.6,414.2 C373.5,412.0 371.8,410.6 371.3,407.7 C370.8,404.8 372.0,400.2 372.4,397.0 C372.8,393.8 373.0,391.0 373.5,388.5 C374.0,386.0 372.8,384.6 375.6,382.1 Z" fill="none" stroke="#6e6e6e" stroke-width="8" filter="url(#b3)" clip-path="url(#c9)"/>
<path d="M375.6,382.1 C378.5,379.6 385.2,375.1 390.6,373.5 C396.0,371.9 402.0,371.9 407.7,372.5 C413.4,373.1 419.1,375.4 424.8,376.8 C430.5,378.2 437.3,379.1 441.9,381.0 C446.5,382.9 448.9,385.5 452.5,388.5 C456.1,391.5 459.6,396.3 463.2,399.2 C466.8,402.1 471.4,403.1 473.9,405.6 C476.4,408.1 477.8,411.4 478.2,414.2 C478.6,417.0 476.7,419.8 476.0,422.7 C475.3,425.6 474.6,428.1 473.9,431.3 C473.2,434.5 473.6,438.8 471.8,442.0 C470.0,445.2 466.8,448.4 463.2,450.5 C459.6,452.6 455.4,453.4 450.4,454.8 C445.4,456.2 439.0,458.3 433.3,459.0 C427.6,459.7 421.5,459.7 416.2,459.0 C410.9,458.3 404.9,456.6 401.3,454.8 C397.7,453.0 396.2,451.2 394.8,448.4 C393.4,445.5 393.4,441.3 392.7,437.7 C392.0,434.1 392.0,429.9 390.6,427.0 C389.2,424.1 386.7,422.7 384.2,420.6 C381.7,418.5 377.8,416.4 375.6,414.2 C373.5,412.0 371.8,410.6 371.3,407.7 C370.8,404.8 372.0,400.2 372.4,397.0 C372.8,393.8 373.0,391.0 373.5,388.5 C374.0,386.0 372.8,384.6 375.6,382.1 Z" fill="none" stroke="#666" stroke-width="0.8"/>
<path d="M659.8,384.0 C662.2,382.6 667.0,380.8 672.0,379.5 C677.0,378.2 684.0,376.7 690.0,376.0 C696.0,375.3 702.7,375.3 708.0,375.5 C713.3,375.7 718.2,375.8 722.0,377.0 C725.8,378.2 728.9,380.5 731.0,383.0 C733.1,385.5 733.8,388.8 734.5,392.0 C735.2,395.2 735.7,399.0 735.5,402.0 C735.3,405.0 733.2,407.7 733.5,410.0 C733.8,412.3 736.8,413.7 737.5,416.0 C738.2,418.3 739.1,422.0 737.5,424.0 C735.9,426.0 730.9,426.5 727.6,427.8 C724.3,429.1 719.6,429.8 717.6,431.8 C715.6,433.8 716.3,437.1 715.6,439.8 C714.9,442.5 715.3,444.8 713.6,447.8 C711.9,450.8 708.9,455.2 705.6,457.8 C702.3,460.4 697.8,462.8 693.7,463.7 C689.6,464.6 685.0,463.4 681.0,463.5 C677.0,463.6 673.8,464.0 670.0,464.0 C666.2,464.0 661.3,464.2 658.0,463.5 C654.7,462.8 652.7,461.4 650.0,460.0 C647.3,458.6 644.2,457.0 642.0,455.0 C639.8,453.0 637.7,450.5 636.5,448.0 C635.3,445.5 635.0,442.8 634.9,439.8 C634.8,436.8 636.2,433.1 635.9,429.8 C635.6,426.5 633.6,422.9 632.9,419.9 C632.2,416.9 631.1,414.5 631.9,411.9 C632.7,409.2 635.5,406.0 637.8,404.0 C640.1,402.0 643.1,401.7 645.8,400.0 C648.5,398.3 651.8,396.0 653.8,394.0 C655.8,392.0 656.8,389.7 657.8,388.0 C658.8,386.3 657.4,385.4 659.8,384.0 Z" fill="url(#gOticR)"/>
<path d="M659.8,384.0 C662.2,382.6 667.0,380.8 672.0,379.5 C677.0,378.2 684.0,376.7 690.0,376.0 C696.0,375.3 702.7,375.3 708.0,375.5 C713.3,375.7 718.2,375.8 722.0,377.0 C725.8,378.2 728.9,380.5 731.0,383.0 C733.1,385.5 733.8,388.8 734.5,392.0 C735.2,395.2 735.7,399.0 735.5,402.0 C735.3,405.0 733.2,407.7 733.5,410.0 C733.8,412.3 736.8,413.7 737.5,416.0 C738.2,418.3 739.1,422.0 737.5,424.0 C735.9,426.0 730.9,426.5 727.6,427.8 C724.3,429.1 719.6,429.8 717.6,431.8 C715.6,433.8 716.3,437.1 715.6,439.8 C714.9,442.5 715.3,444.8 713.6,447.8 C711.9,450.8 708.9,455.2 705.6,457.8 C702.3,460.4 697.8,462.8 693.7,463.7 C689.6,464.6 685.0,463.4 681.0,463.5 C677.0,463.6 673.8,464.0 670.0,464.0 C666.2,464.0 661.3,464.2 658.0,463.5 C654.7,462.8 652.7,461.4 650.0,460.0 C647.3,458.6 644.2,457.0 642.0,455.0 C639.8,453.0 637.7,450.5 636.5,448.0 C635.3,445.5 635.0,442.8 634.9,439.8 C634.8,436.8 636.2,433.1 635.9,429.8 C635.6,426.5 633.6,422.9 632.9,419.9 C632.2,416.9 631.1,414.5 631.9,411.9 C632.7,409.2 635.5,406.0 637.8,404.0 C640.1,402.0 643.1,401.7 645.8,400.0 C648.5,398.3 651.8,396.0 653.8,394.0 C655.8,392.0 656.8,389.7 657.8,388.0 C658.8,386.3 657.4,385.4 659.8,384.0 Z" fill="none" stroke="#6e6e6e" stroke-width="8" filter="url(#b3)" clip-path="url(#c10)"/>
<path d="M659.8,384.0 C662.2,382.6 667.0,380.8 672.0,379.5 C677.0,378.2 684.0,376.7 690.0,376.0 C696.0,375.3 702.7,375.3 708.0,375.5 C713.3,375.7 718.2,375.8 722.0,377.0 C725.8,378.2 728.9,380.5 731.0,383.0 C733.1,385.5 733.8,388.8 734.5,392.0 C735.2,395.2 735.7,399.0 735.5,402.0 C735.3,405.0 733.2,407.7 733.5,410.0 C733.8,412.3 736.8,413.7 737.5,416.0 C738.2,418.3 739.1,422.0 737.5,424.0 C735.9,426.0 730.9,426.5 727.6,427.8 C724.3,429.1 719.6,429.8 717.6,431.8 C715.6,433.8 716.3,437.1 715.6,439.8 C714.9,442.5 715.3,444.8 713.6,447.8 C711.9,450.8 708.9,455.2 705.6,457.8 C702.3,460.4 697.8,462.8 693.7,463.7 C689.6,464.6 685.0,463.4 681.0,463.5 C677.0,463.6 673.8,464.0 670.0,464.0 C666.2,464.0 661.3,464.2 658.0,463.5 C654.7,462.8 652.7,461.4 650.0,460.0 C647.3,458.6 644.2,457.0 642.0,455.0 C639.8,453.0 637.7,450.5 636.5,448.0 C635.3,445.5 635.0,442.8 634.9,439.8 C634.8,436.8 636.2,433.1 635.9,429.8 C635.6,426.5 633.6,422.9 632.9,419.9 C632.2,416.9 631.1,414.5 631.9,411.9 C632.7,409.2 635.5,406.0 637.8,404.0 C640.1,402.0 643.1,401.7 645.8,400.0 C648.5,398.3 651.8,396.0 653.8,394.0 C655.8,392.0 656.8,389.7 657.8,388.0 C658.8,386.3 657.4,385.4 659.8,384.0 Z" fill="none" stroke="#666" stroke-width="0.8"/>
<path d="M378.8,419.0 C379.3,418.0 383.1,419.8 385.0,421.0 C386.9,422.2 388.7,424.2 390.0,426.0 C391.3,427.8 392.6,430.0 393.0,432.0 C393.4,434.0 393.5,437.7 392.5,438.0 C391.5,438.3 388.8,435.8 387.0,434.0 C385.2,432.2 383.4,429.5 382.0,427.0 C380.6,424.5 378.3,420.0 378.8,419.0 Z" style="fill:#fff;stroke:#777;stroke-width:0.6"/>
<path d="M435.4,465.4 C437.0,464.1 442.5,462.9 446.1,462.2 C449.7,461.5 455.0,459.9 456.8,461.2 C458.6,462.4 457.9,467.2 456.8,469.7 C455.7,472.2 452.9,475.4 450.4,476.1 C447.9,476.8 444.2,475.1 441.9,474.0 C439.6,472.9 437.6,471.1 436.5,469.7 C435.4,468.3 433.8,466.6 435.4,465.4 Z" style="fill:#fff;stroke:#777;stroke-width:0.6"/>
<path d="M716.0,431.5 C716.7,429.4 719.3,428.3 720.5,428.5 C721.7,428.7 723.1,430.7 723.0,432.5 C722.9,434.3 721.1,438.1 720.0,439.5 C718.9,440.9 717.2,442.3 716.5,441.0 C715.8,439.7 715.3,433.6 716.0,431.5 Z" style="fill:#fff;stroke:#777;stroke-width:0.5"/>
<ellipse cx="498.6" cy="453.1" rx="3.6" ry="2.7" fill="#fff" stroke="#b4b4b4" stroke-width="1"/>
<ellipse cx="607.3" cy="453.6" rx="3.2" ry="2.4" fill="#fff" stroke="#b4b4b4" stroke-width="1"/>
<ellipse cx="554" cy="364.2" rx="8.3" ry="5.6" fill="#fff" stroke="#c4c4c4" stroke-width="1.3"/>
</g>
<g id="leaders" class="ld">
<line x1="428.5" y1="78.5" x2="469.8" y2="93.5"/>
<line x1="654" y1="66.6" x2="579.8" y2="90.4"/>
<line x1="678" y1="146.8" x2="555.6" y2="144.8"/>
<line x1="679.5" y1="166.2" x2="606.9" y2="176.7"/>
<line x1="693.8" y1="185.3" x2="554.2" y2="202.9"/>
<line x1="692.4" y1="207.2" x2="571.3" y2="208"/>
<line x1="731.1" y1="223.6" x2="654.2" y2="232.1"/>
<line x1="429.8" y1="168.7" x2="529.5" y2="183"/>
<line x1="412.7" y1="191" x2="482.5" y2="193.2"/>
<line x1="409.9" y1="211.5" x2="522.4" y2="210.9"/>
<line x1="340" y1="251.2" x2="399.8" y2="247.8"/>
<line x1="762.4" y1="303.8" x2="620.5" y2="329.4"/>
<line x1="328" y1="337.4" x2="552.6" y2="347"/>
<line x1="779.5" y1="334.5" x2="554" y2="361.3"/>
<line x1="777.5" y1="422.5" x2="738.7" y2="415"/>
<line x1="777.5" y1="438.8" x2="556.9" y2="404.5"/>
<line x1="329.8" y1="445.7" x2="401.6" y2="443"/>
<line x1="348.6" y1="471.4" x2="459.7" y2="452.6"/>
<line x1="393" y1="500.4" x2="444.4" y2="473"/>
<line x1="429" y1="522.6" x2="466.6" y2="454.3"/>
<line x1="459.7" y1="541.5" x2="552.6" y2="421.6"/>
<line x1="624.2" y1="539.7" x2="558.3" y2="441"/>
<line x1="752.4" y1="478.2" x2="718.2" y2="466.2"/>
<line x1="714.8" y1="498.7" x2="608.8" y2="452.6"/>
<line x1="689" y1="521" x2="648" y2="481.6"/>
<line x1="546.7" y1="477.2" x2="546.7" y2="554.6"/>
<line x1="506.4" y1="625.6" x2="602.6" y2="625.6" style="stroke:#555;stroke-width:1.2"/>
</g>
<g id="labels" class="lb">
<text x="376.2" y="82.4" textLength="52.3" lengthAdjust="spacingAndGlyphs">SL.AN.L.</text>
<text x="654.2" y="62.2" textLength="41" lengthAdjust="spacingAndGlyphs">PN.SE.</text>
<text x="685" y="148.7" textLength="33.5" lengthAdjust="spacingAndGlyphs">N.SE.</text>
<text x="681.5" y="167.2" textLength="52" lengthAdjust="spacingAndGlyphs">SL.PO.L.</text>
<text x="383.7" y="168.6" textLength="42.3" lengthAdjust="spacingAndGlyphs">PSE.FI.</text>
<text x="365" y="190" textLength="45.6" lengthAdjust="spacingAndGlyphs">ORN.FI.</text>
<text x="699.3" y="187.7" textLength="56.7" lengthAdjust="spacingAndGlyphs">INOR.SE.</text>
<text x="355.5" y="211" textLength="60.2" lengthAdjust="spacingAndGlyphs">CU.N.PO.</text>
<text x="698" y="209.2" textLength="54.6" lengthAdjust="spacingAndGlyphs">LA.T.PO.</text>
<text x="737" y="227.3" textLength="35" lengthAdjust="spacingAndGlyphs">OR.C.</text>
<text x="288.6" y="258" textLength="55" lengthAdjust="spacingAndGlyphs">AL.OR.C.</text>
<text x="772" y="299.3" textLength="50.2" lengthAdjust="spacingAndGlyphs">PTG.PR.</text>
<text x="283.7" y="341.9" textLength="42.7" lengthAdjust="spacingAndGlyphs">HPH.C.</text>
<text x="785.6" y="336.2" textLength="50.4" lengthAdjust="spacingAndGlyphs">HPH.FE.</text>
<text x="783.1" y="424.8" textLength="69.2" lengthAdjust="spacingAndGlyphs">P.CAP.CM.</text>
<text x="285.4" y="447.4" textLength="41" lengthAdjust="spacingAndGlyphs">CA.PT.</text>
<text x="779.4" y="446" textLength="43.1" lengthAdjust="spacingAndGlyphs">ACH.C.</text>
<text x="283.7" y="482.6" textLength="90.6" lengthAdjust="spacingAndGlyphs">EXOCCAP.CM.</text>
<text x="755.8" y="484.4" textLength="29.1" lengthAdjust="spacingAndGlyphs">P.PL.</text>
<text x="357.2" y="509.7" textLength="53.7" lengthAdjust="spacingAndGlyphs">BCAP.FI.</text>
<text x="715.8" y="506.2" textLength="45.2" lengthAdjust="spacingAndGlyphs">HG.FO.</text>
<text x="388" y="534.6" textLength="49.5" lengthAdjust="spacingAndGlyphs">PCY.PR.</text>
<text x="675.5" y="533.6" textLength="36.9" lengthAdjust="spacingAndGlyphs">OC.A.</text>
<text x="440" y="550.7" textLength="42" lengthAdjust="spacingAndGlyphs">PCH.C.</text>
<text x="619" y="550.7" textLength="30.8" lengthAdjust="spacingAndGlyphs">B.PL.</text>
<text x="533.3" y="567" textLength="39.7" lengthAdjust="spacingAndGlyphs">FO.M.</text>
<text x="528.2" y="639.6" textLength="56.8" lengthAdjust="spacingAndGlyphs">0.5 mm</text>
</g>
<g class="cap">
<text x="68.3" y="681" font-weight="bold" stroke="#000" stroke-width="0.45" textLength="83.2" lengthAdjust="spacingAndGlyphs">Figure 2.</text>
<text x="158" y="681" textLength="372" lengthAdjust="spacingAndGlyphs">Ventral view of Graphic reconstruction of</text>
<text x="538" y="681" font-style="italic" textLength="243.3" lengthAdjust="spacingAndGlyphs">Mus musculus domesticus</text>
<text x="789" y="681" textLength="153.3" lengthAdjust="spacingAndGlyphs">chondrocranium.</text>
</g>
</svg>
</body></html>
